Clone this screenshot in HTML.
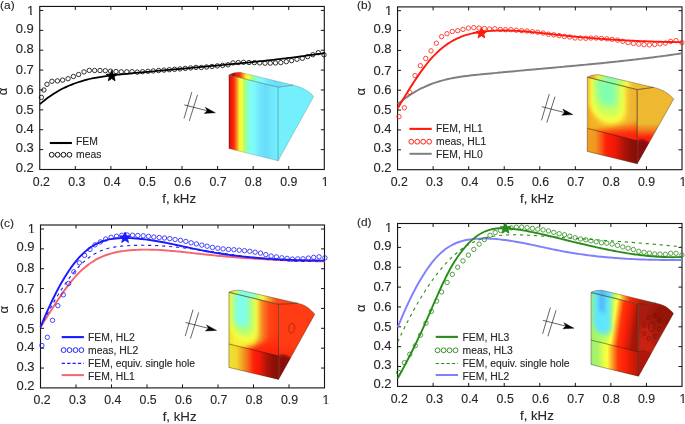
<!DOCTYPE html>
<html lang="en">
<head>
<meta charset="utf-8">
<title>Absorption coefficient: FEM vs measurement</title>
<style>
html,body{margin:0;padding:0;background:#fff;}
body{width:685px;height:424px;overflow:hidden;}
svg{display:block;}
text{font-family:"Liberation Sans",sans-serif;fill:#262626;stroke:#262626;stroke-width:0.12px;}
.tk{font-size:13.4px;}
.tkx{font-size:13px;}
.lg{font-size:10.6px;}
.pl{font-size:11px;}
.xl{font-size:12.8px;}
.al{font-size:13px;}
</style>
</head>
<body>
<svg width="685" height="424" viewBox="0 0 685 424">
<rect x="0" y="0" width="685" height="424" fill="#ffffff"/>
<defs>
<clipPath id="oneM"><rect x="-5" y="-14" width="10" height="12.85"/><rect x="-0.50" y="-1.3" width="1.55" height="1.6"/></clipPath>
<clipPath id="oneE"><rect x="-9" y="-14" width="10" height="12.85"/><rect x="-4.20" y="-1.3" width="1.60" height="1.6"/></clipPath>
</defs>

<g id="panel-a">
<path d="M75.32,169.50v-3.50M75.32,6.45v3.50M110.89,169.50v-3.50M110.89,6.45v3.50M146.46,169.50v-3.50M146.46,6.45v3.50M182.03,169.50v-3.50M182.03,6.45v3.50M217.59,169.50v-3.50M217.59,6.45v3.50M253.16,169.50v-3.50M253.16,6.45v3.50M288.73,169.50v-3.50M288.73,6.45v3.50M39.75,10.45h3.50M324.30,10.45h-3.50M39.75,30.33h3.50M324.30,30.33h-3.50M39.75,50.21h3.50M324.30,50.21h-3.50M39.75,70.09h3.50M324.30,70.09h-3.50M39.75,89.98h3.50M324.30,89.98h-3.50M39.75,109.86h3.50M324.30,109.86h-3.50M39.75,129.74h3.50M324.30,129.74h-3.50M39.75,149.62h3.50M324.30,149.62h-3.50" stroke="#151515" stroke-width="1.0" fill="none"/>
<rect x="39.75" y="6.45" width="284.55" height="163.05" fill="none" stroke="#151515" stroke-width="1.12"/>
<text class="tkx" transform="translate(41.40,186.00) scale(0.950,1)" text-anchor="middle">0.2</text>
<text class="tkx" transform="translate(76.73,186.00) scale(0.950,1)" text-anchor="middle">0.3</text>
<text class="tkx" transform="translate(112.06,186.00) scale(0.950,1)" text-anchor="middle">0.4</text>
<text class="tkx" transform="translate(147.39,186.00) scale(0.950,1)" text-anchor="middle">0.5</text>
<text class="tkx" transform="translate(182.72,186.00) scale(0.950,1)" text-anchor="middle">0.6</text>
<text class="tkx" transform="translate(218.05,186.00) scale(0.950,1)" text-anchor="middle">0.7</text>
<text class="tkx" transform="translate(253.38,186.00) scale(0.950,1)" text-anchor="middle">0.8</text>
<text class="tkx" transform="translate(288.71,186.00) scale(0.950,1)" text-anchor="middle">0.9</text>
<text class="tkx" transform="translate(325.14,186.00) scale(0.950,1)" text-anchor="middle" clip-path="url(#oneM)">1</text>
<text class="tk" transform="translate(34.35,14.85) scale(0.970,1)" text-anchor="end" clip-path="url(#oneE)">1</text>
<text class="tk" transform="translate(33.75,32.73) scale(0.970,1)" text-anchor="end">0.9</text>
<text class="tk" transform="translate(33.75,53.21) scale(0.970,1)" text-anchor="end">0.8</text>
<text class="tk" transform="translate(33.75,74.29) scale(0.970,1)" text-anchor="end">0.7</text>
<text class="tk" transform="translate(33.75,94.18) scale(0.970,1)" text-anchor="end">0.6</text>
<text class="tk" transform="translate(33.75,114.06) scale(0.970,1)" text-anchor="end">0.5</text>
<text class="tk" transform="translate(33.75,132.84) scale(0.970,1)" text-anchor="end">0.4</text>
<text class="tk" transform="translate(33.75,152.22) scale(0.970,1)" text-anchor="end">0.3</text>
<text class="tk" transform="translate(33.75,171.50) scale(0.970,1)" text-anchor="end">0.2</text>
<text class="xl" transform="translate(179.12,202.60) scale(1.035,1)" text-anchor="middle">f, kHz</text>
<text class="al" transform="translate(7.05,91.38) rotate(-90) scale(1.000,1)" text-anchor="middle">α</text>
<text class="pl" transform="translate(0.10,8.85) scale(1.080,1)">(a)</text>
<g id="inset-a"><g transform="translate(0.0,0.0)"><path d="M191.8,92.1L184.0,118.5M197.5,94.8L189.3,120.9M184.3,104.9L207.4,110.8" stroke="#222" stroke-width="0.7" fill="none"/><path d="M215.4,112.8L205.3,107.3L207.2,110.7L204.2,113.4Z" fill="#000" stroke="#000" stroke-width="0.4" stroke-linejoin="miter"/></g><defs><clipPath id="iAf"><rect x="0" y="0" width="49.20" height="73.60"/></clipPath><clipPath id="iAr"><path d="M278.10,87.20L293.00,85.10C301.00,86.70 308.70,90.80 313.70,96.40L278.10,160.80Z"/></clipPath><linearGradient id="iAg" gradientUnits="userSpaceOnUse" x1="228.90" y1="0.00" x2="278.10" y2="0.00"><stop offset="0.000" stop-color="#a01008"/><stop offset="0.040" stop-color="#f01808"/><stop offset="0.100" stop-color="#ff2810"/><stop offset="0.130" stop-color="#ff5810"/><stop offset="0.170" stop-color="#f4a028"/><stop offset="0.210" stop-color="#f4f030"/><stop offset="0.260" stop-color="#f8ff40"/><stop offset="0.310" stop-color="#b4ff60"/><stop offset="0.360" stop-color="#94ffb0"/><stop offset="0.430" stop-color="#80fff0"/><stop offset="0.520" stop-color="#7cf8ff"/><stop offset="0.610" stop-color="#70e8fc"/><stop offset="0.750" stop-color="#68dcfa"/><stop offset="0.890" stop-color="#70e8fc"/><stop offset="1.000" stop-color="#74f0fc"/></linearGradient><linearGradient id="iAt" gradientUnits="userSpaceOnUse" x1="233.90" y1="0.00" x2="290.10" y2="0.00"><stop offset="0.000" stop-color="#a01008"/><stop offset="0.040" stop-color="#f01808"/><stop offset="0.100" stop-color="#ff2810"/><stop offset="0.130" stop-color="#ff5810"/><stop offset="0.170" stop-color="#f4a028"/><stop offset="0.210" stop-color="#f4f030"/><stop offset="0.260" stop-color="#f8ff40"/><stop offset="0.310" stop-color="#b4ff60"/><stop offset="0.360" stop-color="#94ffb0"/><stop offset="0.430" stop-color="#80fff0"/><stop offset="0.520" stop-color="#7cf8ff"/><stop offset="0.610" stop-color="#70e8fc"/><stop offset="0.750" stop-color="#68dcfa"/><stop offset="0.890" stop-color="#70e8fc"/><stop offset="1.000" stop-color="#74f0fc"/></linearGradient></defs><path d="M278.10,87.20L293.00,85.10C301.00,86.70 308.70,90.80 313.70,96.40L278.10,160.80Z" fill="#74f0fc"/><path d="M228.90,75.00C231.10,73.40 235.20,72.20 240.20,72.30L293.00,85.10L278.10,87.20Z" fill="url(#iAt)"/><path d="M228.90,75.00L278.10,87.20L278.10,160.80L228.90,148.60Z" fill="url(#iAg)"/><path d="M278.10,87.20L293.00,85.10C301.00,86.70 308.70,90.80 313.70,96.40L278.10,160.80Z" fill="none" stroke="#2a6a70" stroke-opacity="0.55" stroke-width="0.5"/><path d="M228.90,75.00C231.10,73.40 235.20,72.20 240.20,72.30L293.00,85.10L278.10,87.20Z" fill="none" stroke="#404040" stroke-opacity="0.5" stroke-width="0.5"/><path d="M278.10,87.20L228.90,75.00L228.90,148.60L278.10,160.80" fill="none" stroke="#404040" stroke-opacity="0.45" stroke-width="0.5"/><path d="M278.10,87.20L278.10,160.80" fill="none" stroke="#2a8a94" stroke-opacity="0.6" stroke-width="0.5"/></g>
<path d="M39.90,104.16C40.40,103.74 41.90,102.44 42.90,101.62C43.89,100.81 44.89,100.02 45.89,99.25C46.89,98.48 47.89,97.74 48.89,97.03C49.89,96.31 50.88,95.62 51.88,94.95C52.88,94.28 53.88,93.64 54.88,93.02C55.88,92.40 56.88,91.80 57.87,91.22C58.87,90.65 59.87,90.09 60.87,89.56C61.87,89.02 62.87,88.51 63.87,88.01C64.86,87.52 65.86,87.05 66.86,86.59C67.86,86.13 68.86,85.70 69.86,85.28C70.86,84.86 71.86,84.46 72.85,84.07C73.85,83.69 74.85,83.32 75.85,82.97C76.85,82.62 77.85,82.28 78.85,81.96C79.84,81.64 80.84,81.33 81.84,81.04C82.84,80.74 83.84,80.46 84.84,80.20C85.84,79.93 86.83,79.68 87.83,79.43C88.83,79.19 89.83,78.96 90.83,78.74C91.83,78.52 92.83,78.32 93.82,78.12C94.82,77.92 95.82,77.73 96.82,77.55C97.82,77.37 98.82,77.20 99.82,77.03C100.81,76.87 101.81,76.72 102.81,76.57C103.81,76.42 104.81,76.28 105.81,76.14C106.81,76.00 107.80,75.88 108.80,75.75C109.80,75.62 110.80,75.51 111.80,75.39C112.80,75.27 113.80,75.16 114.79,75.05C115.79,74.94 116.79,74.84 117.79,74.73C118.79,74.63 119.79,74.52 120.79,74.42C121.78,74.32 122.78,74.22 123.78,74.12C124.78,74.02 125.78,73.92 126.78,73.82C127.78,73.72 128.78,73.62 129.77,73.53C130.77,73.43 131.77,73.33 132.77,73.23C133.77,73.14 134.77,73.04 135.77,72.94C136.76,72.85 137.76,72.75 138.76,72.65C139.76,72.56 140.76,72.46 141.76,72.37C142.76,72.27 143.75,72.18 144.75,72.09C145.75,71.99 146.75,71.90 147.75,71.81C148.75,71.71 149.75,71.62 150.74,71.53C151.74,71.43 152.74,71.34 153.74,71.25C154.74,71.16 155.74,71.07 156.74,70.97C157.73,70.88 158.73,70.79 159.73,70.70C160.73,70.61 161.73,70.52 162.73,70.43C163.73,70.34 164.72,70.25 165.72,70.16C166.72,70.07 167.72,69.98 168.72,69.89C169.72,69.80 170.72,69.71 171.71,69.62C172.71,69.53 173.71,69.44 174.71,69.35C175.71,69.26 176.71,69.17 177.71,69.08C178.70,68.99 179.70,68.90 180.70,68.81C181.70,68.72 182.70,68.63 183.70,68.54C184.70,68.45 185.70,68.36 186.69,68.28C187.69,68.19 188.69,68.10 189.69,68.01C190.69,67.92 191.69,67.83 192.69,67.74C193.68,67.65 194.68,67.56 195.68,67.47C196.68,67.38 197.68,67.29 198.68,67.20C199.68,67.11 200.67,67.02 201.67,66.93C202.67,66.84 203.67,66.75 204.67,66.66C205.67,66.57 206.67,66.48 207.66,66.39C208.66,66.29 209.66,66.20 210.66,66.11C211.66,66.02 212.66,65.93 213.66,65.84C214.65,65.74 215.65,65.65 216.65,65.56C217.65,65.47 218.65,65.37 219.65,65.28C220.65,65.19 221.64,65.09 222.64,65.00C223.64,64.90 224.64,64.81 225.64,64.71C226.64,64.62 227.64,64.52 228.63,64.43C229.63,64.33 230.63,64.24 231.63,64.14C232.63,64.04 233.63,63.95 234.63,63.85C235.62,63.75 236.62,63.66 237.62,63.56C238.62,63.46 239.62,63.36 240.62,63.26C241.62,63.16 242.62,63.06 243.61,62.96C244.61,62.86 245.61,62.76 246.61,62.66C247.61,62.56 248.61,62.45 249.61,62.35C250.60,62.25 251.60,62.15 252.60,62.04C253.60,61.94 254.60,61.83 255.60,61.73C256.60,61.62 257.59,61.52 258.59,61.41C259.59,61.30 260.59,61.20 261.59,61.09C262.59,60.98 263.59,60.87 264.58,60.76C265.58,60.65 266.58,60.54 267.58,60.43C268.58,60.32 269.58,60.21 270.58,60.10C271.57,59.98 272.57,59.87 273.57,59.76C274.57,59.64 275.57,59.53 276.57,59.41C277.57,59.29 278.56,59.18 279.56,59.06C280.56,58.94 281.56,58.82 282.56,58.70C283.56,58.58 284.56,58.46 285.55,58.34C286.55,58.22 287.55,58.10 288.55,57.98C289.55,57.85 290.55,57.73 291.55,57.60C292.54,57.48 293.54,57.35 294.54,57.23C295.54,57.10 296.54,56.97 297.54,56.84C298.54,56.71 299.54,56.58 300.53,56.45C301.53,56.32 302.53,56.19 303.53,56.05C304.53,55.92 305.53,55.79 306.53,55.65C307.52,55.51 308.52,55.38 309.52,55.24C310.52,55.10 311.52,54.96 312.52,54.82C313.52,54.68 314.51,54.54 315.51,54.40C316.51,54.25 317.51,54.11 318.51,53.96C319.51,53.82 320.51,53.67 321.50,53.53C322.50,53.38 324.00,53.15 324.50,53.08" fill="none" stroke="#000000" stroke-width="1.75" stroke-linejoin="round"/>
<g fill="none" stroke="#000000" stroke-width="0.80"><circle cx="41.4" cy="97.4" r="2.20"/><circle cx="43.9" cy="90.0" r="2.20"/><circle cx="47.0" cy="84.3" r="2.20"/><circle cx="51.9" cy="81.3" r="2.20"/><circle cx="57.4" cy="80.9" r="2.20"/><circle cx="62.6" cy="80.1" r="2.20"/><circle cx="68.1" cy="78.7" r="2.20"/><circle cx="73.4" cy="76.5" r="2.20"/><circle cx="78.6" cy="74.5" r="2.20"/><circle cx="84.0" cy="71.9" r="2.20"/><circle cx="89.3" cy="70.4" r="2.20"/><circle cx="94.6" cy="70.5" r="2.20"/><circle cx="100.0" cy="70.5" r="2.20"/><circle cx="105.3" cy="70.7" r="2.20"/><circle cx="110.6" cy="71.2" r="2.20"/><circle cx="116.0" cy="71.5" r="2.20"/><circle cx="121.3" cy="71.8" r="2.20"/><circle cx="126.8" cy="71.8" r="2.20"/><circle cx="132.0" cy="71.7" r="2.20"/><circle cx="137.3" cy="72.1" r="2.20"/><circle cx="142.6" cy="71.7" r="2.20"/><circle cx="148.0" cy="71.3" r="2.20"/><circle cx="153.3" cy="70.9" r="2.20"/><circle cx="158.6" cy="70.5" r="2.20"/><circle cx="164.0" cy="70.1" r="2.20"/><circle cx="169.3" cy="69.7" r="2.20"/><circle cx="174.6" cy="69.3" r="2.20"/><circle cx="180.0" cy="68.9" r="2.20"/><circle cx="185.3" cy="68.4" r="2.20"/><circle cx="190.6" cy="67.9" r="2.20"/><circle cx="196.0" cy="67.4" r="2.20"/><circle cx="201.3" cy="67.5" r="2.20"/><circle cx="206.6" cy="67.0" r="2.20"/><circle cx="212.0" cy="66.5" r="2.20"/><circle cx="217.3" cy="65.9" r="2.20"/><circle cx="222.6" cy="65.4" r="2.20"/><circle cx="228.0" cy="64.8" r="2.20"/><circle cx="233.0" cy="62.9" r="2.20"/><circle cx="238.3" cy="62.6" r="2.20"/><circle cx="243.5" cy="62.3" r="2.20"/><circle cx="249.0" cy="62.5" r="2.20"/><circle cx="254.4" cy="62.6" r="2.20"/><circle cx="259.7" cy="62.9" r="2.20"/><circle cx="265.0" cy="63.2" r="2.20"/><circle cx="270.3" cy="63.1" r="2.20"/><circle cx="275.5" cy="62.9" r="2.20"/><circle cx="280.8" cy="62.6" r="2.20"/><circle cx="286.3" cy="61.7" r="2.20"/><circle cx="291.6" cy="60.6" r="2.20"/><circle cx="297.0" cy="59.3" r="2.20"/><circle cx="302.3" cy="58.3" r="2.20"/><circle cx="307.6" cy="56.6" r="2.20"/><circle cx="312.8" cy="54.7" r="2.20"/><circle cx="318.3" cy="52.7" r="2.20"/><circle cx="324.0" cy="54.8" r="2.20"/></g>
<polygon points="111.70,70.40 113.14,74.12 117.12,74.34 114.03,76.86 115.05,80.71 111.70,78.55 108.35,80.71 109.37,76.86 106.28,74.34 110.26,74.12" fill="#000000" stroke="#000000" stroke-width="0.9" stroke-linejoin="miter" stroke-miterlimit="4"/>
<path d="M49.8,143.0H71.9" stroke="#000000" stroke-width="2.10" fill="none"/>
<text class="lg" transform="translate(76.00,145.10) scale(0.980,1)">FEM</text>
<g fill="none" stroke="#000000" stroke-width="0.95"><circle cx="51.7" cy="154.8" r="2.40"/><circle cx="57.6" cy="154.8" r="2.40"/><circle cx="63.5" cy="154.8" r="2.40"/><circle cx="69.4" cy="154.8" r="2.40"/></g>
<text class="lg" transform="translate(76.00,158.10) scale(0.980,1)">meas</text>
</g>
<g id="panel-b">
<path d="M433.11,169.70v-3.50M433.11,6.90v3.50M468.66,169.70v-3.50M468.66,6.90v3.50M504.22,169.70v-3.50M504.22,6.90v3.50M539.77,169.70v-3.50M539.77,6.90v3.50M575.33,169.70v-3.50M575.33,6.90v3.50M610.89,169.70v-3.50M610.89,6.90v3.50M646.44,169.70v-3.50M646.44,6.90v3.50M397.55,10.70h3.50M682.00,10.70h-3.50M397.55,30.57h3.50M682.00,30.57h-3.50M397.55,50.45h3.50M682.00,50.45h-3.50M397.55,70.33h3.50M682.00,70.33h-3.50M397.55,90.20h3.50M682.00,90.20h-3.50M397.55,110.08h3.50M682.00,110.08h-3.50M397.55,129.95h3.50M682.00,129.95h-3.50M397.55,149.82h3.50M682.00,149.82h-3.50" stroke="#151515" stroke-width="1.0" fill="none"/>
<rect x="397.55" y="6.90" width="284.45" height="162.80" fill="none" stroke="#151515" stroke-width="1.12"/>
<text class="tkx" transform="translate(399.20,186.20) scale(0.950,1)" text-anchor="middle">0.2</text>
<text class="tkx" transform="translate(434.53,186.20) scale(0.950,1)" text-anchor="middle">0.3</text>
<text class="tkx" transform="translate(469.86,186.20) scale(0.950,1)" text-anchor="middle">0.4</text>
<text class="tkx" transform="translate(505.19,186.20) scale(0.950,1)" text-anchor="middle">0.5</text>
<text class="tkx" transform="translate(540.52,186.20) scale(0.950,1)" text-anchor="middle">0.6</text>
<text class="tkx" transform="translate(575.85,186.20) scale(0.950,1)" text-anchor="middle">0.7</text>
<text class="tkx" transform="translate(611.18,186.20) scale(0.950,1)" text-anchor="middle">0.8</text>
<text class="tkx" transform="translate(646.51,186.20) scale(0.950,1)" text-anchor="middle">0.9</text>
<text class="tkx" transform="translate(682.94,186.20) scale(0.950,1)" text-anchor="middle" clip-path="url(#oneM)">1</text>
<text class="tk" transform="translate(392.15,15.10) scale(0.970,1)" text-anchor="end" clip-path="url(#oneE)">1</text>
<text class="tk" transform="translate(391.55,32.98) scale(0.970,1)" text-anchor="end">0.9</text>
<text class="tk" transform="translate(391.55,53.45) scale(0.970,1)" text-anchor="end">0.8</text>
<text class="tk" transform="translate(391.55,74.53) scale(0.970,1)" text-anchor="end">0.7</text>
<text class="tk" transform="translate(391.55,94.40) scale(0.970,1)" text-anchor="end">0.6</text>
<text class="tk" transform="translate(391.55,114.28) scale(0.970,1)" text-anchor="end">0.5</text>
<text class="tk" transform="translate(391.55,133.05) scale(0.970,1)" text-anchor="end">0.4</text>
<text class="tk" transform="translate(391.55,152.43) scale(0.970,1)" text-anchor="end">0.3</text>
<text class="tk" transform="translate(391.55,171.70) scale(0.970,1)" text-anchor="end">0.2</text>
<text class="xl" transform="translate(536.88,202.80) scale(1.035,1)" text-anchor="middle">f, kHz</text>
<text class="al" transform="translate(364.85,91.70) rotate(-90) scale(1.000,1)" text-anchor="middle">α</text>
<text class="pl" transform="translate(357.00,8.85) scale(1.080,1)">(b)</text>
<g id="inset-b"><g transform="translate(357.5,1.8)"><path d="M191.8,92.1L184.0,118.5M197.5,94.8L189.3,120.9M184.3,104.9L207.4,110.8" stroke="#222" stroke-width="0.7" fill="none"/><path d="M215.4,112.8L205.3,107.3L207.2,110.7L204.2,113.4Z" fill="#000" stroke="#000" stroke-width="0.4" stroke-linejoin="miter"/></g><defs><clipPath id="iBf"><rect x="0" y="0" width="49.90" height="74.20"/></clipPath><clipPath id="iBr"><path d="M637.20,89.60L653.50,87.40C661.50,89.00 668.70,93.30 673.70,98.90L637.20,163.80Z"/></clipPath><linearGradient id="iBb" gradientUnits="userSpaceOnUse" x1="0.00" y1="0.00" x2="49.90" y2="0.00"><stop offset="0.000" stop-color="#f0a020"/><stop offset="0.100" stop-color="#f4b428"/><stop offset="0.500" stop-color="#f4c430"/><stop offset="0.800" stop-color="#f0bc30"/><stop offset="1.000" stop-color="#eeb030"/></linearGradient><linearGradient id="iBl" gradientUnits="userSpaceOnUse" x1="0.00" y1="0.00" x2="49.90" y2="0.00"><stop offset="0.000" stop-color="#f0a020"/><stop offset="0.160" stop-color="#f09820"/><stop offset="0.270" stop-color="#f86018"/><stop offset="0.380" stop-color="#ff2008"/><stop offset="0.550" stop-color="#f01808"/><stop offset="0.730" stop-color="#b01408"/><stop offset="0.900" stop-color="#8c1008"/><stop offset="1.000" stop-color="#861008"/></linearGradient><linearGradient id="iBt" gradientUnits="userSpaceOnUse" x1="592.30" y1="0.00" x2="658.20" y2="0.00"><stop offset="0.000" stop-color="#f0a828"/><stop offset="0.080" stop-color="#f8e838"/><stop offset="0.180" stop-color="#a0ff90"/><stop offset="0.300" stop-color="#80ffb0"/><stop offset="0.420" stop-color="#b0ff70"/><stop offset="0.520" stop-color="#f8f840"/><stop offset="0.620" stop-color="#f0c030"/><stop offset="1.000" stop-color="#eeb830"/></linearGradient><filter id="iBb0" x="-50%" y="-50%" width="200%" height="200%"><feGaussianBlur stdDeviation="2.60"/></filter><filter id="iBb1" x="-50%" y="-50%" width="200%" height="200%"><feGaussianBlur stdDeviation="2.80"/></filter><filter id="iBb2" x="-50%" y="-50%" width="200%" height="200%"><feGaussianBlur stdDeviation="3.40"/></filter><filter id="iBbb" x="-50%" y="-50%" width="200%" height="200%"><feGaussianBlur stdDeviation="2.6"/></filter><filter id="iBbc" x="-50%" y="-50%" width="200%" height="200%"><feGaussianBlur stdDeviation="1.2"/></filter><linearGradient id="iBrg" gradientUnits="userSpaceOnUse" x1="0.00" y1="89.60" x2="0.00" y2="142.80"><stop offset="0.000" stop-color="#eeb830"/><stop offset="0.640" stop-color="#eeb830"/><stop offset="0.760" stop-color="#f08020"/><stop offset="0.900" stop-color="#ff2010"/><stop offset="1.000" stop-color="#ff2010"/></linearGradient></defs><g clip-path="url(#iBr)"><rect x="636.20" y="83.60" width="39.50" height="86.20" fill="url(#iBrg)"/><path d="M637.20,140.80C638.70,140.60 640.20,139.60 642.20,139.80C645.20,140.20 647.20,141.80 650.70,143.40L645.20,165.80L637.20,165.80Z" fill="#8a1008" filter="url(#iBbc)"/></g><path d="M587.30,77.20C589.50,75.60 594.00,74.60 599.00,74.70L653.50,87.40L637.20,89.60Z" fill="url(#iBt)"/><g transform="matrix(1,0.2485,0,1,587.30,77.20)"><g clip-path="url(#iBf)"><rect x="0" y="0" width="49.90" height="74.20" fill="url(#iBb)"/><g><path d="M2.00,-12.00V23.25A18.25,18.25 0 0 0 38.50,23.25V-12.00Z" fill="#ffff40" filter="url(#iBb0)"/><path d="M6.00,-12.00V22.00A14.00,14.00 0 0 0 34.00,22.00V-12.00Z" fill="#d0ff58" filter="url(#iBb1)"/><path d="M9.50,-12.00V15.00A10.00,10.00 0 0 0 29.50,15.00V-12.00Z" fill="#80ffb0" filter="url(#iBb2)"/><path d="M2.50,53.20L55.90,31.20L55.90,57.20L2.50,57.20Z" fill="#f87018" fill-opacity="1.00" filter="url(#iBbb)"/><path d="M9.98,53.20L55.90,38.70L55.90,57.20L9.98,57.20Z" fill="#ff2010" fill-opacity="1.00" filter="url(#iBbb)"/></g><rect x="-1" y="51.20" width="51.90" height="24.00" fill="url(#iBl)"/><path d="M0,51.20H49.90" stroke="#301808" stroke-opacity="0.8" stroke-width="0.55" fill="none"/></g></g><path d="M637.20,89.60L653.50,87.40C661.50,89.00 668.70,93.30 673.70,98.90L637.20,163.80Z" fill="none" stroke="#3a2a10" stroke-opacity="0.7" stroke-width="0.55"/><path d="M587.30,77.20C589.50,75.60 594.00,74.60 599.00,74.70L653.50,87.40L637.20,89.60Z" fill="none" stroke="#3a2a10" stroke-opacity="0.7" stroke-width="0.55"/><path d="M587.30,77.20L637.20,89.60L637.20,163.80L587.30,151.40Z" fill="none" stroke="#3a2a10" stroke-opacity="0.75" stroke-width="0.55"/><path d="M637.20,140.80C638.70,140.60 640.20,139.60 642.20,139.80C645.20,140.20 647.20,141.80 649.40,143.00" fill="none" stroke="#301008" stroke-opacity="0.5" stroke-width="0.5"/></g>
<path d="M397.70,104.36C398.20,103.94 399.70,102.64 400.70,101.82C401.69,101.01 402.69,100.22 403.69,99.45C404.69,98.68 405.69,97.94 406.69,97.23C407.69,96.51 408.68,95.82 409.68,95.15C410.68,94.48 411.68,93.84 412.68,93.22C413.68,92.60 414.68,92.00 415.67,91.42C416.67,90.85 417.67,90.29 418.67,89.76C419.67,89.22 420.67,88.71 421.67,88.21C422.66,87.72 423.66,87.25 424.66,86.79C425.66,86.33 426.66,85.90 427.66,85.48C428.66,85.06 429.66,84.66 430.65,84.27C431.65,83.89 432.65,83.52 433.65,83.17C434.65,82.82 435.65,82.48 436.65,82.16C437.64,81.84 438.64,81.53 439.64,81.24C440.64,80.94 441.64,80.66 442.64,80.40C443.64,80.13 444.63,79.88 445.63,79.63C446.63,79.39 447.63,79.16 448.63,78.94C449.63,78.72 450.63,78.52 451.62,78.32C452.62,78.12 453.62,77.93 454.62,77.75C455.62,77.57 456.62,77.40 457.62,77.23C458.61,77.07 459.61,76.92 460.61,76.77C461.61,76.62 462.61,76.48 463.61,76.34C464.61,76.20 465.60,76.08 466.60,75.95C467.60,75.82 468.60,75.71 469.60,75.59C470.60,75.47 471.60,75.36 472.59,75.25C473.59,75.14 474.59,75.04 475.59,74.93C476.59,74.83 477.59,74.72 478.59,74.62C479.58,74.52 480.58,74.42 481.58,74.32C482.58,74.22 483.58,74.12 484.58,74.02C485.58,73.92 486.58,73.82 487.57,73.73C488.57,73.63 489.57,73.53 490.57,73.43C491.57,73.34 492.57,73.24 493.57,73.14C494.56,73.05 495.56,72.95 496.56,72.85C497.56,72.76 498.56,72.66 499.56,72.57C500.56,72.47 501.55,72.38 502.55,72.29C503.55,72.19 504.55,72.10 505.55,72.01C506.55,71.91 507.55,71.82 508.54,71.73C509.54,71.63 510.54,71.54 511.54,71.45C512.54,71.36 513.54,71.27 514.54,71.17C515.53,71.08 516.53,70.99 517.53,70.90C518.53,70.81 519.53,70.72 520.53,70.63C521.53,70.54 522.52,70.45 523.52,70.36C524.52,70.27 525.52,70.18 526.52,70.09C527.52,70.00 528.52,69.91 529.51,69.82C530.51,69.73 531.51,69.64 532.51,69.55C533.51,69.46 534.51,69.37 535.51,69.28C536.50,69.19 537.50,69.10 538.50,69.01C539.50,68.92 540.50,68.83 541.50,68.74C542.50,68.65 543.50,68.56 544.49,68.48C545.49,68.39 546.49,68.30 547.49,68.21C548.49,68.12 549.49,68.03 550.49,67.94C551.48,67.85 552.48,67.76 553.48,67.67C554.48,67.58 555.48,67.49 556.48,67.40C557.48,67.31 558.47,67.22 559.47,67.13C560.47,67.04 561.47,66.95 562.47,66.86C563.47,66.77 564.47,66.68 565.46,66.59C566.46,66.49 567.46,66.40 568.46,66.31C569.46,66.22 570.46,66.13 571.46,66.04C572.45,65.94 573.45,65.85 574.45,65.76C575.45,65.67 576.45,65.57 577.45,65.48C578.45,65.39 579.44,65.29 580.44,65.20C581.44,65.10 582.44,65.01 583.44,64.91C584.44,64.82 585.44,64.72 586.43,64.63C587.43,64.53 588.43,64.44 589.43,64.34C590.43,64.24 591.43,64.15 592.43,64.05C593.42,63.95 594.42,63.86 595.42,63.76C596.42,63.66 597.42,63.56 598.42,63.46C599.42,63.36 600.42,63.26 601.41,63.16C602.41,63.06 603.41,62.96 604.41,62.86C605.41,62.76 606.41,62.65 607.41,62.55C608.40,62.45 609.40,62.35 610.40,62.24C611.40,62.14 612.40,62.03 613.40,61.93C614.40,61.82 615.39,61.72 616.39,61.61C617.39,61.50 618.39,61.40 619.39,61.29C620.39,61.18 621.39,61.07 622.38,60.96C623.38,60.85 624.38,60.74 625.38,60.63C626.38,60.52 627.38,60.41 628.38,60.30C629.37,60.18 630.37,60.07 631.37,59.96C632.37,59.84 633.37,59.73 634.37,59.61C635.37,59.49 636.36,59.38 637.36,59.26C638.36,59.14 639.36,59.02 640.36,58.90C641.36,58.78 642.36,58.66 643.35,58.54C644.35,58.42 645.35,58.30 646.35,58.18C647.35,58.05 648.35,57.93 649.35,57.80C650.34,57.68 651.34,57.55 652.34,57.43C653.34,57.30 654.34,57.17 655.34,57.04C656.34,56.91 657.34,56.78 658.33,56.65C659.33,56.52 660.33,56.39 661.33,56.25C662.33,56.12 663.33,55.99 664.33,55.85C665.32,55.71 666.32,55.58 667.32,55.44C668.32,55.30 669.32,55.16 670.32,55.02C671.32,54.88 672.31,54.74 673.31,54.60C674.31,54.45 675.31,54.31 676.31,54.16C677.31,54.02 678.31,53.87 679.30,53.73C680.30,53.58 681.80,53.35 682.30,53.28" fill="none" stroke="#7f7f7f" stroke-width="1.95" stroke-linejoin="round"/>
<path d="M397.55,108.54C398.05,107.70 399.55,105.18 400.54,103.52C401.54,101.85 402.54,100.19 403.54,98.54C404.53,96.90 405.53,95.26 406.53,93.64C407.53,92.02 408.52,90.41 409.52,88.82C410.52,87.23 411.52,85.66 412.52,84.12C413.51,82.57 414.51,81.04 415.51,79.54C416.51,78.05 417.50,76.57 418.50,75.13C419.50,73.68 420.50,72.27 421.50,70.89C422.49,69.51 423.49,68.15 424.49,66.84C425.49,65.53 426.48,64.25 427.48,63.02C428.48,61.78 429.48,60.59 430.47,59.44C431.47,58.29 432.47,57.18 433.47,56.12C434.47,55.06 435.46,54.04 436.46,53.07C437.46,52.10 438.46,51.17 439.45,50.28C440.45,49.39 441.45,48.55 442.45,47.75C443.45,46.94 444.44,46.17 445.44,45.44C446.44,44.72 447.44,44.03 448.43,43.37C449.43,42.71 450.43,42.09 451.43,41.51C452.42,40.92 453.42,40.36 454.42,39.84C455.42,39.32 456.42,38.83 457.41,38.36C458.41,37.90 459.41,37.47 460.41,37.06C461.40,36.65 462.40,36.27 463.40,35.92C464.40,35.56 465.39,35.23 466.39,34.93C467.39,34.62 468.39,34.34 469.39,34.07C470.38,33.81 471.38,33.57 472.38,33.34C473.38,33.12 474.37,32.91 475.37,32.72C476.37,32.54 477.37,32.36 478.37,32.21C479.36,32.05 480.36,31.91 481.36,31.78C482.36,31.64 483.35,31.53 484.35,31.42C485.35,31.31 486.35,31.22 487.34,31.13C488.34,31.04 489.34,30.96 490.34,30.89C491.34,30.82 492.33,30.76 493.33,30.71C494.33,30.66 495.33,30.62 496.32,30.58C497.32,30.55 498.32,30.52 499.32,30.50C500.32,30.48 501.31,30.47 502.31,30.47C503.31,30.47 504.31,30.47 505.30,30.48C506.30,30.49 507.30,30.51 508.30,30.53C509.29,30.56 510.29,30.59 511.29,30.62C512.29,30.66 513.29,30.70 514.28,30.75C515.28,30.79 516.28,30.85 517.28,30.91C518.27,30.96 519.27,31.03 520.27,31.09C521.27,31.16 522.26,31.23 523.26,31.31C524.26,31.39 525.26,31.47 526.26,31.55C527.25,31.64 528.25,31.72 529.25,31.81C530.25,31.90 531.24,32.00 532.24,32.10C533.24,32.19 534.24,32.29 535.24,32.39C536.23,32.50 537.23,32.60 538.23,32.71C539.23,32.81 540.22,32.92 541.22,33.03C542.22,33.14 543.22,33.25 544.21,33.36C545.21,33.47 546.21,33.58 547.21,33.70C548.21,33.81 549.20,33.92 550.20,34.04C551.20,34.15 552.20,34.26 553.19,34.38C554.19,34.49 555.19,34.60 556.19,34.71C557.19,34.82 558.18,34.94 559.18,35.04C560.18,35.15 561.18,35.26 562.17,35.37C563.17,35.48 564.17,35.58 565.17,35.68C566.16,35.79 567.16,35.89 568.16,35.99C569.16,36.09 570.16,36.19 571.15,36.29C572.15,36.39 573.15,36.49 574.15,36.58C575.14,36.68 576.14,36.77 577.14,36.87C578.14,36.96 579.13,37.05 580.13,37.14C581.13,37.23 582.13,37.32 583.13,37.41C584.12,37.50 585.12,37.58 586.12,37.67C587.12,37.76 588.11,37.84 589.11,37.92C590.11,38.01 591.11,38.09 592.11,38.17C593.10,38.25 594.10,38.33 595.10,38.40C596.10,38.48 597.09,38.56 598.09,38.63C599.09,38.71 600.09,38.78 601.08,38.86C602.08,38.93 603.08,39.00 604.08,39.07C605.08,39.14 606.07,39.21 607.07,39.28C608.07,39.34 609.07,39.41 610.06,39.48C611.06,39.54 612.06,39.61 613.06,39.67C614.06,39.73 615.05,39.79 616.05,39.85C617.05,39.91 618.05,39.97 619.04,40.03C620.04,40.09 621.04,40.15 622.04,40.20C623.03,40.26 624.03,40.31 625.03,40.37C626.03,40.42 627.03,40.47 628.02,40.52C629.02,40.57 630.02,40.62 631.02,40.67C632.01,40.72 633.01,40.77 634.01,40.81C635.01,40.86 636.00,40.91 637.00,40.95C638.00,40.99 639.00,41.04 640.00,41.08C640.99,41.12 641.99,41.16 642.99,41.20C643.99,41.24 644.98,41.28 645.98,41.32C646.98,41.35 647.98,41.39 648.98,41.42C649.97,41.46 650.97,41.49 651.97,41.53C652.97,41.56 653.96,41.59 654.96,41.62C655.96,41.65 656.96,41.68 657.95,41.71C658.95,41.74 659.95,41.77 660.95,41.79C661.95,41.82 662.94,41.85 663.94,41.87C664.94,41.89 665.94,41.92 666.93,41.94C667.93,41.96 668.93,41.98 669.93,42.00C670.93,42.02 671.92,42.04 672.92,42.06C673.92,42.08 674.92,42.10 675.91,42.11C676.91,42.13 677.91,42.14 678.91,42.16C679.90,42.17 681.40,42.19 681.90,42.20" fill="none" stroke="#ff1a0d" stroke-width="1.90" stroke-linejoin="round"/>
<g fill="none" stroke="#ff1a0d" stroke-width="0.80"><circle cx="399.0" cy="116.6" r="2.20"/><circle cx="404.4" cy="107.8" r="2.20"/><circle cx="409.7" cy="92.3" r="2.20"/><circle cx="415.0" cy="75.6" r="2.20"/><circle cx="420.4" cy="65.7" r="2.20"/><circle cx="425.7" cy="58.5" r="2.20"/><circle cx="431.0" cy="50.8" r="2.20"/><circle cx="436.4" cy="43.2" r="2.20"/><circle cx="441.6" cy="36.6" r="2.20"/><circle cx="447.0" cy="33.7" r="2.20"/><circle cx="452.3" cy="31.5" r="2.20"/><circle cx="457.7" cy="30.7" r="2.20"/><circle cx="463.0" cy="29.4" r="2.20"/><circle cx="468.4" cy="28.1" r="2.20"/><circle cx="473.8" cy="27.6" r="2.20"/><circle cx="479.0" cy="28.1" r="2.20"/><circle cx="484.4" cy="28.5" r="2.20"/><circle cx="489.6" cy="29.0" r="2.20"/><circle cx="494.9" cy="28.7" r="2.20"/><circle cx="500.3" cy="29.4" r="2.20"/><circle cx="505.6" cy="29.7" r="2.20"/><circle cx="510.9" cy="29.7" r="2.20"/><circle cx="516.3" cy="30.2" r="2.20"/><circle cx="521.6" cy="30.7" r="2.20"/><circle cx="527.0" cy="31.0" r="2.20"/><circle cx="532.4" cy="31.7" r="2.20"/><circle cx="537.7" cy="32.2" r="2.20"/><circle cx="543.1" cy="33.0" r="2.20"/><circle cx="548.4" cy="34.2" r="2.20"/><circle cx="553.7" cy="34.8" r="2.20"/><circle cx="559.1" cy="35.6" r="2.20"/><circle cx="564.4" cy="36.5" r="2.20"/><circle cx="569.7" cy="37.0" r="2.20"/><circle cx="575.0" cy="38.0" r="2.20"/><circle cx="580.4" cy="38.1" r="2.20"/><circle cx="585.8" cy="38.3" r="2.20"/><circle cx="590.9" cy="38.0" r="2.20"/><circle cx="596.2" cy="38.0" r="2.20"/><circle cx="601.5" cy="38.4" r="2.20"/><circle cx="606.8" cy="38.8" r="2.20"/><circle cx="612.1" cy="39.3" r="2.20"/><circle cx="617.5" cy="40.1" r="2.20"/><circle cx="622.8" cy="41.3" r="2.20"/><circle cx="628.1" cy="42.6" r="2.20"/><circle cx="633.4" cy="43.4" r="2.20"/><circle cx="638.8" cy="44.1" r="2.20"/><circle cx="644.1" cy="44.6" r="2.20"/><circle cx="649.4" cy="44.9" r="2.20"/><circle cx="654.7" cy="44.4" r="2.20"/><circle cx="660.0" cy="43.9" r="2.20"/><circle cx="665.4" cy="43.1" r="2.20"/><circle cx="670.7" cy="41.4" r="2.20"/><circle cx="676.1" cy="40.6" r="2.20"/><circle cx="681.9" cy="42.6" r="2.20"/></g>
<polygon points="481.40,27.60 482.84,31.32 486.82,31.54 483.73,34.06 484.75,37.91 481.40,35.75 478.05,37.91 479.07,34.06 475.98,31.54 479.96,31.32" fill="#ff1a0d" stroke="#ff1a0d" stroke-width="0.9" stroke-linejoin="miter" stroke-miterlimit="4"/>
<path d="M409.4,128.9H431.7" stroke="#ff1a0d" stroke-width="2.10" fill="none"/>
<text class="lg" transform="translate(436.00,132.10) scale(0.980,1)">FEM, HL1</text>
<g fill="none" stroke="#ff1a0d" stroke-width="0.95"><circle cx="411.3" cy="141.7" r="2.40"/><circle cx="417.3" cy="141.7" r="2.40"/><circle cx="423.2" cy="141.7" r="2.40"/><circle cx="429.2" cy="141.7" r="2.40"/></g>
<text class="lg" transform="translate(436.00,145.20) scale(0.980,1)">meas, HL1</text>
<path d="M409.4,153.8H431.7" stroke="#7f7f7f" stroke-width="2.00" fill="none"/>
<text class="lg" transform="translate(436.00,158.30) scale(0.980,1)">FEM, HL0</text>
</g>
<g id="panel-c">
<path d="M76.00,387.90v-3.50M76.00,225.00v3.50M111.50,387.90v-3.50M111.50,225.00v3.50M147.00,387.90v-3.50M147.00,225.00v3.50M182.50,387.90v-3.50M182.50,225.00v3.50M218.00,387.90v-3.50M218.00,225.00v3.50M253.50,387.90v-3.50M253.50,225.00v3.50M289.00,387.90v-3.50M289.00,225.00v3.50M40.50,229.00h3.50M324.50,229.00h-3.50M40.50,248.86h3.50M324.50,248.86h-3.50M40.50,268.73h3.50M324.50,268.73h-3.50M40.50,288.59h3.50M324.50,288.59h-3.50M40.50,308.45h3.50M324.50,308.45h-3.50M40.50,328.31h3.50M324.50,328.31h-3.50M40.50,348.17h3.50M324.50,348.17h-3.50M40.50,368.04h3.50M324.50,368.04h-3.50" stroke="#151515" stroke-width="1.0" fill="none"/>
<rect x="40.50" y="225.00" width="284.00" height="162.90" fill="none" stroke="#151515" stroke-width="1.12"/>
<text class="tkx" transform="translate(42.15,404.40) scale(0.950,1)" text-anchor="middle">0.2</text>
<text class="tkx" transform="translate(77.48,404.40) scale(0.950,1)" text-anchor="middle">0.3</text>
<text class="tkx" transform="translate(112.81,404.40) scale(0.950,1)" text-anchor="middle">0.4</text>
<text class="tkx" transform="translate(148.14,404.40) scale(0.950,1)" text-anchor="middle">0.5</text>
<text class="tkx" transform="translate(183.47,404.40) scale(0.950,1)" text-anchor="middle">0.6</text>
<text class="tkx" transform="translate(218.80,404.40) scale(0.950,1)" text-anchor="middle">0.7</text>
<text class="tkx" transform="translate(254.13,404.40) scale(0.950,1)" text-anchor="middle">0.8</text>
<text class="tkx" transform="translate(289.46,404.40) scale(0.950,1)" text-anchor="middle">0.9</text>
<text class="tkx" transform="translate(325.89,404.40) scale(0.950,1)" text-anchor="middle" clip-path="url(#oneM)">1</text>
<text class="tk" transform="translate(35.10,233.40) scale(0.970,1)" text-anchor="end" clip-path="url(#oneE)">1</text>
<text class="tk" transform="translate(34.50,251.26) scale(0.970,1)" text-anchor="end">0.9</text>
<text class="tk" transform="translate(34.50,271.73) scale(0.970,1)" text-anchor="end">0.8</text>
<text class="tk" transform="translate(34.50,292.79) scale(0.970,1)" text-anchor="end">0.7</text>
<text class="tk" transform="translate(34.50,312.65) scale(0.970,1)" text-anchor="end">0.6</text>
<text class="tk" transform="translate(34.50,332.51) scale(0.970,1)" text-anchor="end">0.5</text>
<text class="tk" transform="translate(34.50,351.27) scale(0.970,1)" text-anchor="end">0.4</text>
<text class="tk" transform="translate(34.50,370.64) scale(0.970,1)" text-anchor="end">0.3</text>
<text class="tk" transform="translate(34.50,389.90) scale(0.970,1)" text-anchor="end">0.2</text>
<text class="xl" transform="translate(179.60,421.00) scale(1.035,1)" text-anchor="middle">f, kHz</text>
<text class="al" transform="translate(7.80,309.85) rotate(-90) scale(1.000,1)" text-anchor="middle">α</text>
<text class="pl" transform="translate(0.10,227.00) scale(1.080,1)">(c)</text>
<g id="inset-c"><g transform="translate(1.2,217.6)"><path d="M191.8,92.1L184.0,118.5M197.5,94.8L189.3,120.9M184.3,104.9L207.4,110.8" stroke="#222" stroke-width="0.7" fill="none"/><path d="M215.4,112.8L205.3,107.3L207.2,110.7L204.2,113.4Z" fill="#000" stroke="#000" stroke-width="0.4" stroke-linejoin="miter"/></g><defs><clipPath id="iCf"><rect x="0" y="0" width="49.60" height="75.10"/></clipPath><clipPath id="iCr"><path d="M278.50,304.30L297.50,303.20C305.50,304.80 309.80,308.60 314.80,314.20L278.50,379.40Z"/></clipPath><linearGradient id="iCb" gradientUnits="userSpaceOnUse" x1="0.00" y1="0.00" x2="49.60" y2="0.00"><stop offset="0.000" stop-color="#f0e030"/><stop offset="0.120" stop-color="#f8f038"/><stop offset="0.500" stop-color="#f8e838"/><stop offset="0.600" stop-color="#f4b030"/><stop offset="0.700" stop-color="#f87820"/><stop offset="0.820" stop-color="#ff4414"/><stop offset="1.000" stop-color="#ff3810"/></linearGradient><linearGradient id="iCl" gradientUnits="userSpaceOnUse" x1="0.00" y1="0.00" x2="49.60" y2="0.00"><stop offset="0.000" stop-color="#f0e030"/><stop offset="0.150" stop-color="#f0d830"/><stop offset="0.280" stop-color="#f0a020"/><stop offset="0.400" stop-color="#f86018"/><stop offset="0.500" stop-color="#ff2008"/><stop offset="0.620" stop-color="#f01808"/><stop offset="0.760" stop-color="#b01408"/><stop offset="0.900" stop-color="#8c1008"/><stop offset="1.000" stop-color="#861008"/></linearGradient><linearGradient id="iCt" gradientUnits="userSpaceOnUse" x1="230.90" y1="0.00" x2="296.50" y2="0.00"><stop offset="0.000" stop-color="#f0d830"/><stop offset="0.070" stop-color="#e8f840"/><stop offset="0.130" stop-color="#90ffd0"/><stop offset="0.220" stop-color="#80ffe8"/><stop offset="0.330" stop-color="#88ffd8"/><stop offset="0.400" stop-color="#b0ff80"/><stop offset="0.480" stop-color="#f8f840"/><stop offset="0.580" stop-color="#f4a830"/><stop offset="0.700" stop-color="#ff4c18"/><stop offset="1.000" stop-color="#ff3c14"/></linearGradient><filter id="iCb0" x="-50%" y="-50%" width="200%" height="200%"><feGaussianBlur stdDeviation="2.00"/></filter><filter id="iCb1" x="-50%" y="-50%" width="200%" height="200%"><feGaussianBlur stdDeviation="2.20"/></filter><filter id="iCb2" x="-50%" y="-50%" width="200%" height="200%"><feGaussianBlur stdDeviation="2.60"/></filter><filter id="iCbb" x="-50%" y="-50%" width="200%" height="200%"><feGaussianBlur stdDeviation="2.6"/></filter><filter id="iCbc" x="-50%" y="-50%" width="200%" height="200%"><feGaussianBlur stdDeviation="1.2"/></filter><linearGradient id="iCrg" gradientUnits="userSpaceOnUse" x1="0.00" y1="304.30" x2="0.00" y2="358.00"><stop offset="0.000" stop-color="#ff3c14"/><stop offset="0.640" stop-color="#ff3c14"/><stop offset="0.760" stop-color="#ff3c14"/><stop offset="0.900" stop-color="#ff3010"/><stop offset="1.000" stop-color="#ff3010"/></linearGradient></defs><g clip-path="url(#iCr)"><rect x="277.50" y="298.30" width="39.30" height="87.10" fill="url(#iCrg)"/><path d="M278.50,356.00C280.00,355.80 281.50,354.80 283.50,355.00C286.50,355.40 288.50,357.00 292.00,358.60L286.50,381.40L278.50,381.40Z" fill="#8a1008" filter="url(#iCbc)"/></g><path d="M228.90,292.30C231.10,290.70 235.50,290.20 240.50,290.30L297.50,303.20L278.50,304.30Z" fill="url(#iCt)"/><g transform="matrix(1,0.2419,0,1,228.90,292.30)"><g clip-path="url(#iCf)"><rect x="0" y="0" width="49.60" height="75.10" fill="url(#iCb)"/><g><path d="M1.50,-12.00V32.25A13.75,13.75 0 0 0 29.00,32.25V-12.00Z" fill="#f4ff40" filter="url(#iCb0)"/><path d="M3.50,-12.00V29.25A10.75,10.75 0 0 0 25.00,29.25V-12.00Z" fill="#b8ff70" filter="url(#iCb1)"/><path d="M5.50,-12.00V24.75A7.25,7.25 0 0 0 20.00,24.75V-12.00Z" fill="#80ffe8" filter="url(#iCb2)"/><path d="M14.88,53.70L55.60,27.70L55.60,57.70L14.88,57.70Z" fill="#ff3010" fill-opacity="1.00" filter="url(#iCbb)"/><path d="M19.84,53.70L55.60,39.70L55.60,57.70L19.84,57.70Z" fill="#ff2008" fill-opacity="1.00" filter="url(#iCbb)"/></g><rect x="-1" y="51.70" width="51.60" height="24.40" fill="url(#iCl)"/><path d="M0,51.70H49.60" stroke="#301808" stroke-opacity="0.8" stroke-width="0.55" fill="none"/></g></g><path d="M278.50,304.30L297.50,303.20C305.50,304.80 309.80,308.60 314.80,314.20L278.50,379.40Z" fill="none" stroke="#3a2a10" stroke-opacity="0.7" stroke-width="0.55"/><path d="M228.90,292.30C231.10,290.70 235.50,290.20 240.50,290.30L297.50,303.20L278.50,304.30Z" fill="none" stroke="#3a2a10" stroke-opacity="0.7" stroke-width="0.55"/><path d="M228.90,292.30L278.50,304.30L278.50,379.40L228.90,367.40Z" fill="none" stroke="#3a2a10" stroke-opacity="0.75" stroke-width="0.55"/><path d="M278.50,356.00C280.00,355.80 281.50,354.80 283.50,355.00C286.50,355.40 288.50,357.00 290.70,358.20" fill="none" stroke="#301008" stroke-opacity="0.5" stroke-width="0.5"/><ellipse cx="291.7" cy="328.2" rx="3.0" ry="5.0" transform="rotate(8 291.7 328.2)" fill="none" stroke="#601008" stroke-opacity="0.8" stroke-width="0.5"/></g>
<path d="M40.50,327.15C41.00,326.36 42.50,324.00 43.49,322.42C44.49,320.84 45.49,319.25 46.49,317.67C47.48,316.09 48.48,314.51 49.48,312.94C50.48,311.37 51.47,309.80 52.47,308.24C53.47,306.69 54.47,305.14 55.47,303.61C56.46,302.09 57.46,300.57 58.46,299.08C59.46,297.59 60.45,296.11 61.45,294.67C62.45,293.22 63.45,291.80 64.45,290.41C65.44,289.02 66.44,287.65 67.44,286.32C68.44,285.00 69.43,283.70 70.43,282.45C71.43,281.20 72.43,279.98 73.42,278.81C74.42,277.64 75.42,276.51 76.42,275.43C77.42,274.35 78.41,273.32 79.41,272.33C80.41,271.35 81.41,270.40 82.40,269.50C83.40,268.60 84.40,267.75 85.40,266.93C86.40,266.11 87.39,265.34 88.39,264.60C89.39,263.86 90.39,263.17 91.38,262.50C92.38,261.84 93.38,261.21 94.38,260.62C95.37,260.03 96.37,259.47 97.37,258.94C98.37,258.42 99.37,257.92 100.36,257.46C101.36,256.99 102.36,256.56 103.36,256.15C104.35,255.74 105.35,255.36 106.35,255.01C107.35,254.65 108.34,254.32 109.34,254.02C110.34,253.71 111.34,253.43 112.34,253.16C113.33,252.90 114.33,252.66 115.33,252.44C116.33,252.22 117.32,252.01 118.32,251.83C119.32,251.64 120.32,251.47 121.32,251.32C122.31,251.16 123.31,251.02 124.31,250.89C125.31,250.76 126.30,250.65 127.30,250.54C128.30,250.44 129.30,250.34 130.29,250.26C131.29,250.17 132.29,250.09 133.29,250.02C134.29,249.96 135.28,249.90 136.28,249.85C137.28,249.80 138.28,249.75 139.27,249.72C140.27,249.69 141.27,249.66 142.27,249.64C143.27,249.62 144.26,249.61 145.26,249.61C146.26,249.61 147.26,249.61 148.25,249.62C149.25,249.63 150.25,249.65 151.25,249.67C152.24,249.69 153.24,249.72 154.24,249.76C155.24,249.80 156.24,249.84 157.23,249.88C158.23,249.93 159.23,249.98 160.23,250.04C161.22,250.10 162.22,250.16 163.22,250.23C164.22,250.29 165.21,250.36 166.21,250.44C167.21,250.51 168.21,250.59 169.21,250.67C170.20,250.76 171.20,250.84 172.20,250.93C173.20,251.02 174.19,251.12 175.19,251.21C176.19,251.31 177.19,251.41 178.19,251.51C179.18,251.61 180.18,251.71 181.18,251.81C182.18,251.92 183.17,252.02 184.17,252.13C185.17,252.24 186.17,252.35 187.16,252.46C188.16,252.57 189.16,252.68 190.16,252.79C191.16,252.90 192.15,253.02 193.15,253.13C194.15,253.24 195.15,253.35 196.14,253.46C197.14,253.58 198.14,253.69 199.14,253.80C200.14,253.91 201.13,254.02 202.13,254.13C203.13,254.24 204.13,254.34 205.12,254.45C206.12,254.56 207.12,254.66 208.12,254.76C209.11,254.87 210.11,254.97 211.11,255.07C212.11,255.17 213.11,255.27 214.10,255.37C215.10,255.47 216.10,255.56 217.10,255.66C218.09,255.76 219.09,255.85 220.09,255.94C221.09,256.04 222.08,256.13 223.08,256.22C224.08,256.31 225.08,256.40 226.08,256.49C227.07,256.58 228.07,256.66 229.07,256.75C230.07,256.84 231.06,256.92 232.06,257.00C233.06,257.09 234.06,257.17 235.06,257.25C236.05,257.33 237.05,257.41 238.05,257.49C239.05,257.57 240.04,257.64 241.04,257.72C242.04,257.80 243.04,257.87 244.03,257.94C245.03,258.02 246.03,258.09 247.03,258.16C248.03,258.23 249.02,258.30 250.02,258.37C251.02,258.44 252.02,258.51 253.01,258.57C254.01,258.64 255.01,258.70 256.01,258.77C257.01,258.83 258.00,258.89 259.00,258.95C260.00,259.01 261.00,259.07 261.99,259.13C262.99,259.19 263.99,259.25 264.99,259.31C265.98,259.36 266.98,259.42 267.98,259.47C268.98,259.53 269.98,259.58 270.97,259.63C271.97,259.68 272.97,259.73 273.97,259.78C274.96,259.83 275.96,259.88 276.96,259.93C277.96,259.97 278.95,260.02 279.95,260.06C280.95,260.11 281.95,260.15 282.95,260.20C283.94,260.24 284.94,260.28 285.94,260.32C286.94,260.36 287.93,260.40 288.93,260.43C289.93,260.47 290.93,260.51 291.93,260.54C292.92,260.58 293.92,260.61 294.92,260.65C295.92,260.68 296.91,260.71 297.91,260.74C298.91,260.77 299.91,260.80 300.90,260.83C301.90,260.86 302.90,260.89 303.90,260.91C304.90,260.94 305.89,260.96 306.89,260.99C307.89,261.01 308.89,261.03 309.88,261.06C310.88,261.08 311.88,261.10 312.88,261.12C313.88,261.14 314.87,261.16 315.87,261.17C316.87,261.19 317.87,261.21 318.86,261.22C319.86,261.24 320.86,261.25 321.86,261.26C322.85,261.27 324.35,261.29 324.85,261.30" fill="none" stroke="#f5666e" stroke-width="1.95" stroke-linejoin="round"/>
<path d="M40.50,327.11C41.00,326.12 42.50,323.12 43.49,321.16C44.49,319.21 45.49,317.29 46.49,315.40C47.48,313.50 48.48,311.64 49.48,309.81C50.48,307.98 51.47,306.19 52.47,304.42C53.47,302.66 54.47,300.93 55.46,299.23C56.46,297.54 57.46,295.88 58.46,294.26C59.45,292.63 60.45,291.05 61.45,289.50C62.45,287.95 63.44,286.44 64.44,284.97C65.44,283.50 66.44,282.06 67.43,280.67C68.43,279.28 69.43,277.93 70.43,276.62C71.42,275.32 72.42,274.05 73.42,272.83C74.42,271.61 75.41,270.43 76.41,269.30C77.41,268.17 78.41,267.08 79.40,266.04C80.40,265.00 81.40,264.00 82.40,263.06C83.39,262.12 84.39,261.22 85.39,260.37C86.39,259.52 87.38,258.73 88.38,257.98C89.38,257.22 90.38,256.52 91.37,255.86C92.37,255.20 93.37,254.59 94.37,254.02C95.36,253.44 96.36,252.91 97.36,252.42C98.36,251.92 99.36,251.47 100.35,251.04C101.35,250.62 102.35,250.23 103.35,249.87C104.34,249.52 105.34,249.19 106.34,248.89C107.34,248.60 108.33,248.33 109.33,248.08C110.33,247.84 111.33,247.62 112.32,247.42C113.32,247.22 114.32,247.05 115.32,246.89C116.31,246.73 117.31,246.60 118.31,246.47C119.31,246.35 120.30,246.24 121.30,246.15C122.30,246.05 123.30,245.97 124.29,245.90C125.29,245.82 126.29,245.76 127.29,245.70C128.28,245.64 129.28,245.59 130.28,245.54C131.28,245.50 132.27,245.46 133.27,245.42C134.27,245.39 135.27,245.36 136.26,245.34C137.26,245.32 138.26,245.30 139.26,245.29C140.25,245.28 141.25,245.27 142.25,245.27C143.25,245.28 144.24,245.28 145.24,245.29C146.24,245.30 147.24,245.32 148.23,245.34C149.23,245.36 150.23,245.39 151.23,245.42C152.22,245.45 153.22,245.49 154.22,245.53C155.22,245.57 156.22,245.61 157.21,245.66C158.21,245.71 159.21,245.77 160.21,245.82C161.20,245.88 162.20,245.94 163.20,246.01C164.20,246.08 165.19,246.15 166.19,246.22C167.19,246.30 168.19,246.37 169.18,246.46C170.18,246.54 171.18,246.62 172.18,246.71C173.17,246.80 174.17,246.89 175.17,246.99C176.17,247.08 177.16,247.18 178.16,247.28C179.16,247.38 180.16,247.49 181.15,247.60C182.15,247.70 183.15,247.81 184.15,247.93C185.14,248.04 186.14,248.16 187.14,248.27C188.14,248.39 189.13,248.51 190.13,248.63C191.13,248.76 192.13,248.88 193.12,249.01C194.12,249.13 195.12,249.26 196.12,249.39C197.11,249.53 198.11,249.66 199.11,249.79C200.11,249.93 201.10,250.06 202.10,250.20C203.10,250.34 204.10,250.48 205.09,250.61C206.09,250.75 207.09,250.90 208.09,251.04C209.08,251.18 210.08,251.32 211.08,251.47C212.08,251.61 213.08,251.76 214.07,251.90C215.07,252.05 216.07,252.19 217.07,252.34C218.06,252.49 219.06,252.63 220.06,252.78C221.06,252.93 222.05,253.08 223.05,253.22C224.05,253.37 225.05,253.52 226.04,253.67C227.04,253.81 228.04,253.96 229.04,254.11C230.03,254.25 231.03,254.40 232.03,254.55C233.03,254.69 234.02,254.84 235.02,254.98C236.02,255.13 237.02,255.27 238.01,255.41C239.01,255.56 240.01,255.70 241.01,255.84C242.00,255.98 243.00,256.12 244.00,256.26C245.00,256.40 245.99,256.53 246.99,256.67C247.99,256.80 248.99,256.94 249.98,257.07C250.98,257.20 251.98,257.33 252.98,257.46C253.97,257.59 254.97,257.72 255.97,257.84C256.97,257.96 257.96,258.09 258.96,258.21C259.96,258.33 260.96,258.44 261.95,258.56C262.95,258.67 263.95,258.79 264.95,258.90C265.94,259.01 266.94,259.11 267.94,259.22C268.94,259.32 269.94,259.42 270.93,259.52C271.93,259.62 272.93,259.71 273.93,259.80C274.92,259.89 275.92,259.98 276.92,260.07C277.92,260.15 278.91,260.23 279.91,260.31C280.91,260.39 281.91,260.46 282.90,260.53C283.90,260.60 284.90,260.66 285.90,260.73C286.89,260.79 287.89,260.85 288.89,260.90C289.89,260.95 290.88,261.00 291.88,261.04C292.88,261.09 293.88,261.13 294.87,261.16C295.87,261.20 296.87,261.23 297.87,261.25C298.86,261.28 299.86,261.30 300.86,261.31C301.86,261.33 302.85,261.34 303.85,261.34C304.85,261.35 305.85,261.35 306.84,261.34C307.84,261.33 308.84,261.32 309.84,261.31C310.83,261.29 311.83,261.26 312.83,261.24C313.83,261.21 314.82,261.17 315.82,261.13C316.82,261.09 317.82,261.04 318.81,260.99C319.81,260.93 320.81,260.87 321.81,260.81C322.80,260.74 324.30,260.63 324.80,260.59" fill="none" stroke="#1a1aff" stroke-width="1.10" stroke-dasharray="3.2 3.8" stroke-linejoin="round"/>
<path d="M40.50,327.11C41.00,325.91 42.50,322.26 43.49,319.90C44.49,317.55 45.49,315.24 46.49,312.98C47.48,310.72 48.48,308.51 49.48,306.35C50.48,304.19 51.47,302.07 52.47,300.01C53.47,297.95 54.47,295.94 55.46,293.98C56.46,292.02 57.46,290.11 58.46,288.25C59.45,286.40 60.45,284.59 61.45,282.84C62.45,281.09 63.44,279.39 64.44,277.74C65.44,276.10 66.44,274.50 67.43,272.97C68.43,271.43 69.43,269.95 70.43,268.52C71.42,267.09 72.42,265.72 73.42,264.40C74.42,263.09 75.41,261.83 76.41,260.62C77.41,259.42 78.41,258.28 79.40,257.19C80.40,256.10 81.40,255.07 82.40,254.10C83.39,253.13 84.39,252.22 85.39,251.35C86.39,250.49 87.38,249.69 88.38,248.93C89.38,248.18 90.38,247.47 91.37,246.82C92.37,246.16 93.37,245.55 94.37,244.98C95.36,244.42 96.36,243.90 97.36,243.42C98.36,242.94 99.36,242.50 100.35,242.10C101.35,241.70 102.35,241.34 103.35,241.01C104.34,240.68 105.34,240.38 106.34,240.12C107.34,239.86 108.33,239.63 109.33,239.42C110.33,239.22 111.33,239.05 112.32,238.89C113.32,238.74 114.32,238.62 115.32,238.51C116.31,238.41 117.31,238.33 118.31,238.26C119.31,238.20 120.30,238.15 121.30,238.12C122.30,238.09 123.30,238.07 124.29,238.07C125.29,238.06 126.29,238.07 127.29,238.09C128.28,238.10 129.28,238.13 130.28,238.17C131.28,238.21 132.27,238.25 133.27,238.31C134.27,238.37 135.27,238.43 136.26,238.51C137.26,238.58 138.26,238.67 139.26,238.76C140.25,238.85 141.25,238.95 142.25,239.06C143.25,239.17 144.24,239.29 145.24,239.41C146.24,239.53 147.24,239.66 148.23,239.80C149.23,239.94 150.23,240.08 151.23,240.23C152.22,240.38 153.22,240.53 154.22,240.69C155.22,240.86 156.22,241.02 157.21,241.19C158.21,241.37 159.21,241.54 160.21,241.72C161.20,241.90 162.20,242.09 163.20,242.28C164.20,242.47 165.19,242.66 166.19,242.86C167.19,243.05 168.19,243.25 169.18,243.46C170.18,243.66 171.18,243.86 172.18,244.07C173.17,244.28 174.17,244.49 175.17,244.70C176.17,244.91 177.16,245.12 178.16,245.34C179.16,245.55 180.16,245.77 181.15,245.98C182.15,246.20 183.15,246.41 184.15,246.63C185.14,246.84 186.14,247.06 187.14,247.28C188.14,247.49 189.13,247.71 190.13,247.92C191.13,248.14 192.13,248.35 193.12,248.56C194.12,248.77 195.12,248.98 196.12,249.19C197.11,249.39 198.11,249.60 199.11,249.80C200.11,250.00 201.10,250.20 202.10,250.40C203.10,250.60 204.10,250.79 205.09,250.98C206.09,251.17 207.09,251.35 208.09,251.53C209.08,251.72 210.08,251.89 211.08,252.07C212.08,252.24 213.08,252.41 214.07,252.58C215.07,252.75 216.07,252.92 217.07,253.08C218.06,253.24 219.06,253.39 220.06,253.55C221.06,253.70 222.05,253.85 223.05,254.00C224.05,254.15 225.05,254.29 226.04,254.44C227.04,254.58 228.04,254.72 229.04,254.85C230.03,254.99 231.03,255.12 232.03,255.25C233.03,255.38 234.02,255.50 235.02,255.63C236.02,255.75 237.02,255.87 238.01,255.99C239.01,256.10 240.01,256.22 241.01,256.33C242.00,256.44 243.00,256.55 244.00,256.66C245.00,256.76 245.99,256.87 246.99,256.97C247.99,257.07 248.99,257.17 249.98,257.26C250.98,257.36 251.98,257.45 252.98,257.54C253.97,257.63 254.97,257.72 255.97,257.80C256.97,257.89 257.96,257.97 258.96,258.05C259.96,258.13 260.96,258.21 261.95,258.28C262.95,258.36 263.95,258.43 264.95,258.50C265.94,258.58 266.94,258.64 267.94,258.71C268.94,258.78 269.94,258.84 270.93,258.90C271.93,258.97 272.93,259.03 273.93,259.08C274.92,259.14 275.92,259.20 276.92,259.25C277.92,259.31 278.91,259.36 279.91,259.41C280.91,259.46 281.91,259.51 282.90,259.55C283.90,259.60 284.90,259.65 285.90,259.69C286.89,259.73 287.89,259.77 288.89,259.81C289.89,259.85 290.88,259.89 291.88,259.92C292.88,259.96 293.88,260.00 294.87,260.03C295.87,260.06 296.87,260.09 297.87,260.12C298.86,260.15 299.86,260.18 300.86,260.21C301.86,260.23 302.85,260.26 303.85,260.28C304.85,260.31 305.85,260.33 306.84,260.35C307.84,260.37 308.84,260.39 309.84,260.41C310.83,260.43 311.83,260.45 312.83,260.46C313.83,260.48 314.82,260.50 315.82,260.51C316.82,260.52 317.82,260.54 318.81,260.55C319.81,260.56 320.81,260.57 321.81,260.58C322.80,260.59 324.30,260.61 324.80,260.61" fill="none" stroke="#1a1aff" stroke-width="1.90" stroke-linejoin="round"/>
<g fill="none" stroke="#1a1aff" stroke-width="0.80"><circle cx="41.9" cy="345.5" r="2.20"/><circle cx="47.3" cy="337.3" r="2.20"/><circle cx="52.5" cy="320.3" r="2.20"/><circle cx="57.9" cy="305.7" r="2.20"/><circle cx="63.3" cy="294.8" r="2.20"/><circle cx="68.6" cy="283.5" r="2.20"/><circle cx="73.8" cy="271.8" r="2.20"/><circle cx="79.3" cy="262.8" r="2.20"/><circle cx="84.6" cy="255.4" r="2.20"/><circle cx="90.0" cy="249.4" r="2.20"/><circle cx="95.0" cy="244.9" r="2.20"/><circle cx="100.4" cy="241.9" r="2.20"/><circle cx="105.7" cy="239.0" r="2.20"/><circle cx="111.1" cy="237.3" r="2.20"/><circle cx="116.5" cy="236.2" r="2.20"/><circle cx="121.8" cy="235.3" r="2.20"/><circle cx="127.2" cy="235.0" r="2.20"/><circle cx="132.5" cy="235.2" r="2.20"/><circle cx="137.8" cy="235.5" r="2.20"/><circle cx="143.2" cy="235.8" r="2.20"/><circle cx="148.5" cy="236.3" r="2.20"/><circle cx="153.8" cy="237.0" r="2.20"/><circle cx="159.2" cy="237.5" r="2.20"/><circle cx="164.5" cy="238.0" r="2.20"/><circle cx="169.8" cy="238.6" r="2.20"/><circle cx="175.1" cy="239.5" r="2.20"/><circle cx="180.5" cy="240.3" r="2.20"/><circle cx="185.8" cy="241.4" r="2.20"/><circle cx="191.1" cy="242.8" r="2.20"/><circle cx="196.4" cy="243.9" r="2.20"/><circle cx="201.8" cy="245.1" r="2.20"/><circle cx="207.1" cy="246.2" r="2.20"/><circle cx="212.5" cy="247.4" r="2.20"/><circle cx="217.8" cy="248.2" r="2.20"/><circle cx="223.1" cy="248.9" r="2.20"/><circle cx="228.5" cy="249.4" r="2.20"/><circle cx="233.9" cy="249.7" r="2.20"/><circle cx="239.2" cy="250.2" r="2.20"/><circle cx="244.5" cy="250.7" r="2.20"/><circle cx="249.8" cy="251.3" r="2.20"/><circle cx="255.1" cy="252.2" r="2.20"/><circle cx="260.5" cy="253.1" r="2.20"/><circle cx="265.8" cy="254.6" r="2.20"/><circle cx="271.1" cy="256.0" r="2.20"/><circle cx="276.4" cy="256.9" r="2.20"/><circle cx="281.8" cy="257.8" r="2.20"/><circle cx="287.1" cy="258.4" r="2.20"/><circle cx="292.4" cy="259.1" r="2.20"/><circle cx="297.7" cy="258.9" r="2.20"/><circle cx="303.0" cy="258.8" r="2.20"/><circle cx="308.4" cy="258.1" r="2.20"/><circle cx="313.7" cy="257.3" r="2.20"/><circle cx="319.1" cy="256.8" r="2.20"/><circle cx="324.9" cy="257.9" r="2.20"/></g>
<polygon points="125.10,232.10 126.54,235.82 130.52,236.04 127.43,238.56 128.45,242.41 125.10,240.25 121.75,242.41 122.77,238.56 119.68,236.04 123.66,235.82" fill="#1a1aff" stroke="#1a1aff" stroke-width="0.9" stroke-linejoin="miter" stroke-miterlimit="4"/>
<path d="M61.7,337.1H83.9" stroke="#1a1aff" stroke-width="2.10" fill="none"/>
<text class="lg" transform="translate(88.00,340.60) scale(0.980,1)">FEM, HL2</text>
<g fill="none" stroke="#1a1aff" stroke-width="0.95"><circle cx="63.6" cy="350.1" r="2.40"/><circle cx="69.5" cy="350.1" r="2.40"/><circle cx="75.5" cy="350.1" r="2.40"/><circle cx="81.4" cy="350.1" r="2.40"/></g>
<text class="lg" transform="translate(88.00,353.50) scale(0.980,1)">meas, HL2</text>
<path d="M61.7,363.4H83.9" stroke="#1a1aff" stroke-width="1.20" stroke-dasharray="3.3 2.1" fill="none"/>
<text class="lg" transform="translate(88.00,366.60) scale(0.980,1)">FEM, equiv. single hole</text>
<path d="M61.7,375.1H83.9" stroke="#f5666e" stroke-width="2.00" fill="none"/>
<text class="lg" transform="translate(88.00,379.70) scale(0.980,1)">FEM, HL1</text>
</g>
<g id="panel-d">
<path d="M433.11,386.40v-3.50M433.11,223.50v3.50M468.66,386.40v-3.50M468.66,223.50v3.50M504.22,386.40v-3.50M504.22,223.50v3.50M539.77,386.40v-3.50M539.77,223.50v3.50M575.33,386.40v-3.50M575.33,223.50v3.50M610.89,386.40v-3.50M610.89,223.50v3.50M646.44,386.40v-3.50M646.44,223.50v3.50M397.55,227.50h3.50M682.00,227.50h-3.50M397.55,247.36h3.50M682.00,247.36h-3.50M397.55,267.23h3.50M682.00,267.23h-3.50M397.55,287.09h3.50M682.00,287.09h-3.50M397.55,306.95h3.50M682.00,306.95h-3.50M397.55,326.81h3.50M682.00,326.81h-3.50M397.55,346.67h3.50M682.00,346.67h-3.50M397.55,366.54h3.50M682.00,366.54h-3.50" stroke="#151515" stroke-width="1.0" fill="none"/>
<rect x="397.55" y="223.50" width="284.45" height="162.90" fill="none" stroke="#151515" stroke-width="1.12"/>
<text class="tkx" transform="translate(399.20,402.90) scale(0.950,1)" text-anchor="middle">0.2</text>
<text class="tkx" transform="translate(434.53,402.90) scale(0.950,1)" text-anchor="middle">0.3</text>
<text class="tkx" transform="translate(469.86,402.90) scale(0.950,1)" text-anchor="middle">0.4</text>
<text class="tkx" transform="translate(505.19,402.90) scale(0.950,1)" text-anchor="middle">0.5</text>
<text class="tkx" transform="translate(540.52,402.90) scale(0.950,1)" text-anchor="middle">0.6</text>
<text class="tkx" transform="translate(575.85,402.90) scale(0.950,1)" text-anchor="middle">0.7</text>
<text class="tkx" transform="translate(611.18,402.90) scale(0.950,1)" text-anchor="middle">0.8</text>
<text class="tkx" transform="translate(646.51,402.90) scale(0.950,1)" text-anchor="middle">0.9</text>
<text class="tkx" transform="translate(682.94,402.90) scale(0.950,1)" text-anchor="middle" clip-path="url(#oneM)">1</text>
<text class="tk" transform="translate(392.15,231.90) scale(0.970,1)" text-anchor="end" clip-path="url(#oneE)">1</text>
<text class="tk" transform="translate(391.55,249.76) scale(0.970,1)" text-anchor="end">0.9</text>
<text class="tk" transform="translate(391.55,270.23) scale(0.970,1)" text-anchor="end">0.8</text>
<text class="tk" transform="translate(391.55,291.29) scale(0.970,1)" text-anchor="end">0.7</text>
<text class="tk" transform="translate(391.55,311.15) scale(0.970,1)" text-anchor="end">0.6</text>
<text class="tk" transform="translate(391.55,331.01) scale(0.970,1)" text-anchor="end">0.5</text>
<text class="tk" transform="translate(391.55,349.77) scale(0.970,1)" text-anchor="end">0.4</text>
<text class="tk" transform="translate(391.55,369.14) scale(0.970,1)" text-anchor="end">0.3</text>
<text class="tk" transform="translate(391.55,388.40) scale(0.970,1)" text-anchor="end">0.2</text>
<text class="xl" transform="translate(536.88,419.50) scale(1.035,1)" text-anchor="middle">f, kHz</text>
<text class="al" transform="translate(364.85,308.35) rotate(-90) scale(1.000,1)" text-anchor="middle">α</text>
<text class="pl" transform="translate(357.00,225.50) scale(1.080,1)">(d)</text>
<g id="inset-d"><g transform="translate(358.6,215.4)"><path d="M191.8,92.1L184.0,118.5M197.5,94.8L189.3,120.9M184.3,104.9L207.4,110.8" stroke="#222" stroke-width="0.7" fill="none"/><path d="M215.4,112.8L205.3,107.3L207.2,110.7L204.2,113.4Z" fill="#000" stroke="#000" stroke-width="0.4" stroke-linejoin="miter"/></g><defs><clipPath id="iDf"><rect x="0" y="0" width="47.50" height="72.00"/></clipPath><clipPath id="iDr"><path d="M638.50,304.20L656.00,303.20C664.00,304.80 668.40,307.80 673.40,313.40L638.50,376.20Z"/></clipPath><linearGradient id="iDb" gradientUnits="userSpaceOnUse" x1="0.00" y1="0.00" x2="46.49" y2="6.84"><stop offset="0.000" stop-color="#a0f060"/><stop offset="0.300" stop-color="#a8f868"/><stop offset="0.460" stop-color="#c8ff58"/><stop offset="0.550" stop-color="#ffff40"/><stop offset="0.620" stop-color="#f8a028"/><stop offset="0.700" stop-color="#ff3808"/><stop offset="0.800" stop-color="#ff2008"/><stop offset="0.920" stop-color="#d01c08"/><stop offset="1.040" stop-color="#a01808"/></linearGradient><linearGradient id="iDl" gradientUnits="userSpaceOnUse" x1="0.00" y1="0.00" x2="47.50" y2="0.00"><stop offset="0.000" stop-color="#a0f070"/><stop offset="0.150" stop-color="#a8f468"/><stop offset="0.250" stop-color="#e0ff48"/><stop offset="0.340" stop-color="#ffff40"/><stop offset="0.450" stop-color="#f8a028"/><stop offset="0.570" stop-color="#ff3808"/><stop offset="0.710" stop-color="#ff2008"/><stop offset="0.850" stop-color="#d81c08"/><stop offset="1.000" stop-color="#b81808"/></linearGradient><linearGradient id="iDt" gradientUnits="userSpaceOnUse" x1="589.50" y1="0.00" x2="653.00" y2="0.00"><stop offset="0.000" stop-color="#90f080"/><stop offset="0.080" stop-color="#60e0ff"/><stop offset="0.200" stop-color="#50b8f8"/><stop offset="0.320" stop-color="#60e0ff"/><stop offset="0.400" stop-color="#b0ff60"/><stop offset="0.470" stop-color="#ffff40"/><stop offset="0.540" stop-color="#f8a028"/><stop offset="0.640" stop-color="#ff2808"/><stop offset="0.800" stop-color="#c01c08"/><stop offset="1.000" stop-color="#a01808"/></linearGradient><filter id="iDb0" x="-50%" y="-50%" width="200%" height="200%"><feGaussianBlur stdDeviation="2.20"/></filter><filter id="iDb1" x="-50%" y="-50%" width="200%" height="200%"><feGaussianBlur stdDeviation="2.20"/></filter><filter id="iDb2" x="-50%" y="-50%" width="200%" height="200%"><feGaussianBlur stdDeviation="2.00"/></filter><filter id="iDbb" x="-50%" y="-50%" width="200%" height="200%"><feGaussianBlur stdDeviation="2.6"/></filter><filter id="iDbc" x="-50%" y="-50%" width="200%" height="200%"><feGaussianBlur stdDeviation="1.2"/></filter><linearGradient id="iDrg" gradientUnits="userSpaceOnUse" x1="0.00" y1="304.20" x2="0.00" y2="353.80"><stop offset="0.000" stop-color="#a81c10"/><stop offset="0.640" stop-color="#a81c10"/><stop offset="0.760" stop-color="#b01c10"/><stop offset="0.900" stop-color="#c82010"/><stop offset="1.000" stop-color="#c82010"/></linearGradient></defs><g clip-path="url(#iDr)"><rect x="637.50" y="298.20" width="37.90" height="84.00" fill="url(#iDrg)"/><ellipse cx="667.40" cy="314.40" rx="16" ry="13" fill="#8c1408" fill-opacity="0.7" filter="url(#iDbb)"/><ellipse cx="645.50" cy="340.20" rx="7" ry="16" fill="#d02410" fill-opacity="0.75" filter="url(#iDbb)"/><path d="M638.50,351.80C640.00,351.60 641.50,350.60 643.50,350.80C646.50,351.20 648.50,352.80 652.00,354.40L646.50,378.20L638.50,378.20Z" fill="#ac190c" filter="url(#iDbc)"/></g><path d="M591.00,292.50C593.20,290.90 596.90,290.20 601.90,290.30L656.00,303.20L638.50,304.20Z" fill="url(#iDt)"/><g transform="matrix(1,0.2463,0,1,591.00,292.50)"><g clip-path="url(#iDf)"><rect x="0" y="0" width="47.50" height="72.00" fill="url(#iDb)"/><g><path d="M2.00,-12.00V30.75A9.25,9.25 0 0 0 20.50,30.75V-12.00Z" fill="#80f0c0" filter="url(#iDb0)"/><path d="M3.50,-12.00V29.50A7.50,7.50 0 0 0 18.50,29.50V-12.00Z" fill="#60e4ff" filter="url(#iDb1)"/><path d="M8.50,-12.00V14.50A2.50,2.50 0 0 0 13.50,14.50V-12.00Z" fill="#50b0f8" filter="url(#iDb2)"/></g><rect x="-1" y="47.60" width="49.50" height="25.40" fill="url(#iDl)"/><path d="M0,47.60H47.50" stroke="#301808" stroke-opacity="0.8" stroke-width="0.55" fill="none"/></g></g><path d="M638.50,304.20L656.00,303.20C664.00,304.80 668.40,307.80 673.40,313.40L638.50,376.20Z" fill="none" stroke="#3a2a10" stroke-opacity="0.7" stroke-width="0.55"/><path d="M591.00,292.50C593.20,290.90 596.90,290.20 601.90,290.30L656.00,303.20L638.50,304.20Z" fill="none" stroke="#3a2a10" stroke-opacity="0.7" stroke-width="0.55"/><path d="M591.00,292.50L638.50,304.20L638.50,376.20L591.00,364.50Z" fill="none" stroke="#3a2a10" stroke-opacity="0.75" stroke-width="0.55"/><path d="M638.50,351.80C640.00,351.60 641.50,350.60 643.50,350.80C646.50,351.20 648.50,352.80 650.70,354.00" fill="none" stroke="#301008" stroke-opacity="0.5" stroke-width="0.5"/><g fill="none" stroke="#500c06" stroke-opacity="0.8" stroke-width="0.5"><ellipse cx="651.6" cy="327.0" rx="3.1" ry="4.6"/><ellipse cx="648.4" cy="317.5" rx="1.5" ry="2.2" transform="rotate(8 648.4 317.5)"/><ellipse cx="654.6" cy="315.6" rx="1.5" ry="2.2" transform="rotate(8 654.6 315.6)"/><ellipse cx="658.9" cy="320.5" rx="1.5" ry="2.2" transform="rotate(8 658.9 320.5)"/><ellipse cx="658.9" cy="329.1" rx="1.5" ry="2.2" transform="rotate(8 658.9 329.1)"/><ellipse cx="654.6" cy="336.4" rx="1.5" ry="2.2" transform="rotate(8 654.6 336.4)"/><ellipse cx="648.7" cy="338.3" rx="1.5" ry="2.2" transform="rotate(8 648.7 338.3)"/><ellipse cx="644.3" cy="333.5" rx="1.5" ry="2.2" transform="rotate(8 644.3 333.5)"/><ellipse cx="644.3" cy="325.4" rx="1.5" ry="2.2" transform="rotate(8 644.3 325.4)"/></g></g>
<path d="M397.70,327.25C398.20,326.04 399.69,322.38 400.69,320.02C401.69,317.66 402.69,315.35 403.68,313.08C404.68,310.82 405.68,308.60 406.67,306.43C407.67,304.26 408.67,302.14 409.67,300.08C410.66,298.01 411.66,295.99 412.66,294.03C413.66,292.06 414.65,290.14 415.65,288.28C416.65,286.42 417.64,284.61 418.64,282.85C419.64,281.10 420.64,279.39 421.63,277.75C422.63,276.10 423.63,274.50 424.62,272.96C425.62,271.42 426.62,269.94 427.62,268.51C428.61,267.09 429.61,265.71 430.61,264.40C431.60,263.09 432.60,261.83 433.60,260.63C434.60,259.43 435.59,258.29 436.59,257.21C437.59,256.13 438.58,255.11 439.58,254.15C440.58,253.19 441.58,252.29 442.57,251.44C443.57,250.59 444.57,249.81 445.57,249.07C446.56,248.33 447.56,247.65 448.56,247.01C449.55,246.37 450.55,245.79 451.55,245.24C452.55,244.70 453.54,244.20 454.54,243.74C455.54,243.29 456.53,242.87 457.53,242.49C458.53,242.11 459.53,241.77 460.52,241.46C461.52,241.15 462.52,240.88 463.51,240.63C464.51,240.38 465.51,240.17 466.51,239.97C467.50,239.78 468.50,239.62 469.50,239.47C470.50,239.33 471.49,239.21 472.49,239.11C473.49,239.00 474.48,238.92 475.48,238.85C476.48,238.77 477.48,238.72 478.47,238.67C479.47,238.63 480.47,238.59 481.46,238.57C482.46,238.55 483.46,238.54 484.46,238.55C485.45,238.55 486.45,238.56 487.45,238.59C488.44,238.61 489.44,238.65 490.44,238.69C491.44,238.74 492.43,238.79 493.43,238.86C494.43,238.92 495.42,239.00 496.42,239.08C497.42,239.17 498.42,239.26 499.41,239.36C500.41,239.46 501.41,239.57 502.41,239.69C503.40,239.80 504.40,239.93 505.40,240.06C506.39,240.19 507.39,240.33 508.39,240.48C509.39,240.62 510.38,240.78 511.38,240.93C512.38,241.09 513.37,241.26 514.37,241.43C515.37,241.59 516.37,241.77 517.36,241.95C518.36,242.13 519.36,242.31 520.35,242.50C521.35,242.69 522.35,242.88 523.35,243.08C524.34,243.27 525.34,243.47 526.34,243.67C527.34,243.88 528.33,244.08 529.33,244.29C530.33,244.50 531.32,244.71 532.32,244.92C533.32,245.13 534.32,245.34 535.31,245.56C536.31,245.77 537.31,245.99 538.30,246.20C539.30,246.42 540.30,246.64 541.30,246.85C542.29,247.07 543.29,247.29 544.29,247.50C545.28,247.72 546.28,247.93 547.28,248.14C548.28,248.36 549.27,248.57 550.27,248.78C551.27,248.99 552.26,249.20 553.26,249.41C554.26,249.61 555.26,249.82 556.25,250.02C557.25,250.22 558.25,250.41 559.25,250.61C560.24,250.80 561.24,250.99 562.24,251.18C563.23,251.36 564.23,251.55 565.23,251.72C566.23,251.90 567.22,252.08 568.22,252.25C569.22,252.42 570.21,252.59 571.21,252.76C572.21,252.92 573.21,253.08 574.20,253.24C575.20,253.40 576.20,253.56 577.19,253.71C578.19,253.86 579.19,254.01 580.19,254.15C581.18,254.30 582.18,254.44 583.18,254.58C584.18,254.72 585.17,254.85 586.17,254.98C587.17,255.12 588.16,255.25 589.16,255.37C590.16,255.50 591.16,255.62 592.15,255.74C593.15,255.86 594.15,255.98 595.14,256.09C596.14,256.20 597.14,256.32 598.14,256.42C599.13,256.53 600.13,256.64 601.13,256.74C602.12,256.84 603.12,256.94 604.12,257.04C605.12,257.13 606.11,257.23 607.11,257.32C608.11,257.41 609.10,257.50 610.10,257.58C611.10,257.67 612.10,257.75 613.09,257.83C614.09,257.91 615.09,257.99 616.09,258.07C617.08,258.14 618.08,258.21 619.08,258.28C620.07,258.35 621.07,258.42 622.07,258.49C623.07,258.55 624.06,258.61 625.06,258.67C626.06,258.73 627.05,258.79 628.05,258.85C629.05,258.90 630.05,258.96 631.04,259.01C632.04,259.06 633.04,259.11 634.03,259.15C635.03,259.20 636.03,259.24 637.03,259.29C638.02,259.33 639.02,259.37 640.02,259.41C641.02,259.44 642.01,259.48 643.01,259.51C644.01,259.55 645.00,259.58 646.00,259.61C647.00,259.64 648.00,259.66 648.99,259.69C649.99,259.72 650.99,259.74 651.98,259.76C652.98,259.78 653.98,259.80 654.98,259.82C655.97,259.84 656.97,259.85 657.97,259.87C658.96,259.88 659.96,259.90 660.96,259.91C661.96,259.92 662.95,259.93 663.95,259.93C664.95,259.94 665.94,259.95 666.94,259.95C667.94,259.96 668.94,259.96 669.93,259.96C670.93,259.96 671.93,259.96 672.93,259.96C673.92,259.96 674.92,259.96 675.92,259.95C676.91,259.95 677.91,259.94 678.91,259.93C679.91,259.92 681.40,259.91 681.90,259.91" fill="none" stroke="#8080ff" stroke-width="1.95" stroke-linejoin="round"/>
<path d="M397.70,341.88C398.20,340.82 399.69,337.61 400.69,335.52C401.69,333.43 402.69,331.38 403.68,329.36C404.68,327.33 405.68,325.34 406.67,323.38C407.67,321.43 408.67,319.50 409.67,317.61C410.66,315.72 411.66,313.86 412.66,312.03C413.66,310.21 414.65,308.41 415.65,306.65C416.65,304.89 417.64,303.16 418.64,301.47C419.64,299.78 420.64,298.11 421.63,296.49C422.63,294.86 423.63,293.26 424.62,291.70C425.62,290.14 426.62,288.61 427.62,287.11C428.61,285.62 429.61,284.16 430.61,282.73C431.60,281.30 432.60,279.90 433.60,278.54C434.60,277.18 435.59,275.85 436.59,274.56C437.59,273.26 438.58,272.00 439.58,270.77C440.58,269.54 441.58,268.35 442.57,267.19C443.57,266.03 444.57,264.90 445.57,263.81C446.56,262.72 447.56,261.66 448.56,260.63C449.55,259.61 450.55,258.61 451.55,257.66C452.55,256.70 453.54,255.78 454.54,254.89C455.54,254.00 456.53,253.14 457.53,252.32C458.53,251.50 459.53,250.71 460.52,249.96C461.52,249.21 462.52,248.49 463.51,247.80C464.51,247.12 465.51,246.47 466.51,245.85C467.50,245.24 468.50,244.66 469.50,244.11C470.50,243.56 471.49,243.05 472.49,242.57C473.49,242.08 474.48,241.63 475.48,241.21C476.48,240.79 477.48,240.40 478.47,240.03C479.47,239.66 480.47,239.32 481.46,239.01C482.46,238.69 483.46,238.41 484.46,238.14C485.45,237.87 486.45,237.62 487.45,237.40C488.44,237.17 489.44,236.97 490.44,236.78C491.44,236.59 492.43,236.43 493.43,236.27C494.43,236.12 495.42,235.98 496.42,235.86C497.42,235.73 498.42,235.62 499.41,235.52C500.41,235.42 501.41,235.33 502.41,235.26C503.40,235.18 504.40,235.12 505.40,235.06C506.39,235.01 507.39,234.96 508.39,234.93C509.39,234.89 510.38,234.86 511.38,234.85C512.38,234.83 513.37,234.82 514.37,234.82C515.37,234.82 516.37,234.82 517.36,234.84C518.36,234.85 519.36,234.87 520.35,234.89C521.35,234.92 522.35,234.95 523.35,234.99C524.34,235.03 525.34,235.07 526.34,235.12C527.34,235.16 528.33,235.22 529.33,235.27C530.33,235.32 531.32,235.38 532.32,235.44C533.32,235.51 534.32,235.57 535.31,235.63C536.31,235.70 537.31,235.77 538.30,235.84C539.30,235.91 540.30,235.98 541.30,236.05C542.29,236.11 543.29,236.19 544.29,236.25C545.28,236.32 546.28,236.39 547.28,236.46C548.28,236.53 549.27,236.60 550.27,236.67C551.27,236.74 552.26,236.81 553.26,236.88C554.26,236.94 555.26,237.01 556.25,237.08C557.25,237.15 558.25,237.22 559.25,237.28C560.24,237.35 561.24,237.42 562.24,237.49C563.23,237.56 564.23,237.62 565.23,237.69C566.23,237.76 567.22,237.83 568.22,237.89C569.22,237.96 570.21,238.03 571.21,238.10C572.21,238.16 573.21,238.23 574.20,238.30C575.20,238.37 576.20,238.43 577.19,238.50C578.19,238.57 579.19,238.64 580.19,238.70C581.18,238.77 582.18,238.84 583.18,238.91C584.18,238.97 585.17,239.04 586.17,239.11C587.17,239.18 588.16,239.25 589.16,239.31C590.16,239.38 591.16,239.45 592.15,239.52C593.15,239.59 594.15,239.66 595.14,239.73C596.14,239.80 597.14,239.86 598.14,239.93C599.13,240.00 600.13,240.07 601.13,240.14C602.12,240.21 603.12,240.28 604.12,240.35C605.12,240.42 606.11,240.50 607.11,240.57C608.11,240.64 609.10,240.71 610.10,240.78C611.10,240.85 612.10,240.92 613.09,241.00C614.09,241.07 615.09,241.14 616.09,241.22C617.08,241.29 618.08,241.36 619.08,241.44C620.07,241.51 621.07,241.59 622.07,241.66C623.07,241.73 624.06,241.81 625.06,241.89C626.06,241.96 627.05,242.04 628.05,242.12C629.05,242.19 630.05,242.27 631.04,242.35C632.04,242.42 633.04,242.50 634.03,242.58C635.03,242.66 636.03,242.74 637.03,242.82C638.02,242.90 639.02,242.98 640.02,243.06C641.02,243.14 642.01,243.23 643.01,243.31C644.01,243.39 645.00,243.47 646.00,243.56C647.00,243.64 648.00,243.73 648.99,243.81C649.99,243.90 650.99,243.98 651.98,244.07C652.98,244.15 653.98,244.24 654.98,244.33C655.97,244.42 656.97,244.51 657.97,244.60C658.96,244.69 659.96,244.78 660.96,244.87C661.96,244.96 662.95,245.05 663.95,245.14C664.95,245.24 665.94,245.33 666.94,245.42C667.94,245.52 668.94,245.61 669.93,245.71C670.93,245.80 671.93,245.90 672.93,246.00C673.92,246.10 674.92,246.20 675.92,246.30C676.91,246.40 677.91,246.50 678.91,246.60C679.91,246.70 681.40,246.85 681.90,246.91" fill="none" stroke="#2a8c1a" stroke-width="1.10" stroke-dasharray="3.2 3.8" stroke-linejoin="round"/>
<path d="M397.55,378.60C398.05,377.70 399.55,375.01 400.54,373.19C401.54,371.37 402.54,369.53 403.54,367.67C404.53,365.80 405.53,363.92 406.53,362.01C407.53,360.11 408.52,358.18 409.52,356.23C410.52,354.27 411.52,352.30 412.52,350.29C413.51,348.29 414.51,346.26 415.51,344.21C416.51,342.15 417.50,340.07 418.50,337.96C419.50,335.85 420.50,333.72 421.50,331.55C422.49,329.39 423.49,327.19 424.49,324.97C425.49,322.74 426.48,320.49 427.48,318.22C428.48,315.95 429.48,313.65 430.47,311.36C431.47,309.07 432.47,306.76 433.47,304.47C434.47,302.17 435.46,299.87 436.46,297.60C437.46,295.32 438.46,293.05 439.45,290.83C440.45,288.60 441.45,286.40 442.45,284.27C443.45,282.14 444.44,280.05 445.44,278.05C446.44,276.04 447.44,274.10 448.43,272.23C449.43,270.36 450.43,268.56 451.43,266.83C452.42,265.09 453.42,263.42 454.42,261.82C455.42,260.21 456.42,258.67 457.41,257.20C458.41,255.72 459.41,254.31 460.41,252.96C461.40,251.61 462.40,250.32 463.40,249.09C464.40,247.86 465.39,246.70 466.39,245.59C467.39,244.48 468.39,243.43 469.39,242.44C470.38,241.45 471.38,240.52 472.38,239.64C473.38,238.77 474.37,237.95 475.37,237.18C476.37,236.42 477.37,235.71 478.37,235.05C479.36,234.39 480.36,233.79 481.36,233.24C482.36,232.69 483.35,232.19 484.35,231.75C485.35,231.30 486.35,230.90 487.34,230.55C488.34,230.20 489.34,229.90 490.34,229.64C491.34,229.38 492.33,229.16 493.33,228.98C494.33,228.80 495.33,228.66 496.32,228.55C497.32,228.44 498.32,228.36 499.32,228.31C500.32,228.26 501.31,228.24 502.31,228.24C503.31,228.24 504.31,228.27 505.30,228.32C506.30,228.36 507.30,228.42 508.30,228.50C509.29,228.58 510.29,228.67 511.29,228.77C512.29,228.87 513.29,228.98 514.28,229.10C515.28,229.22 516.28,229.35 517.28,229.49C518.27,229.63 519.27,229.78 520.27,229.93C521.27,230.08 522.26,230.25 523.26,230.42C524.26,230.58 525.26,230.76 526.26,230.94C527.25,231.13 528.25,231.32 529.25,231.51C530.25,231.71 531.24,231.91 532.24,232.11C533.24,232.32 534.24,232.53 535.24,232.74C536.23,232.96 537.23,233.18 538.23,233.40C539.23,233.62 540.22,233.85 541.22,234.08C542.22,234.31 543.22,234.54 544.21,234.78C545.21,235.01 546.21,235.25 547.21,235.49C548.21,235.72 549.20,235.97 550.20,236.21C551.20,236.45 552.20,236.69 553.19,236.93C554.19,237.17 555.19,237.42 556.19,237.66C557.19,237.90 558.18,238.15 559.18,238.39C560.18,238.64 561.18,238.88 562.17,239.12C563.17,239.37 564.17,239.61 565.17,239.86C566.16,240.10 567.16,240.35 568.16,240.59C569.16,240.83 570.16,241.08 571.15,241.32C572.15,241.56 573.15,241.80 574.15,242.05C575.14,242.29 576.14,242.53 577.14,242.77C578.14,243.01 579.13,243.25 580.13,243.49C581.13,243.72 582.13,243.96 583.13,244.20C584.12,244.43 585.12,244.67 586.12,244.90C587.12,245.13 588.11,245.36 589.11,245.59C590.11,245.82 591.11,246.05 592.11,246.28C593.10,246.51 594.10,246.73 595.10,246.95C596.10,247.18 597.09,247.40 598.09,247.62C599.09,247.84 600.09,248.05 601.08,248.27C602.08,248.48 603.08,248.69 604.08,248.90C605.08,249.11 606.07,249.32 607.07,249.52C608.07,249.73 609.07,249.93 610.06,250.13C611.06,250.33 612.06,250.52 613.06,250.72C614.06,250.91 615.05,251.10 616.05,251.29C617.05,251.47 618.05,251.66 619.04,251.84C620.04,252.02 621.04,252.19 622.04,252.37C623.03,252.54 624.03,252.71 625.03,252.87C626.03,253.04 627.03,253.20 628.02,253.36C629.02,253.52 630.02,253.67 631.02,253.82C632.01,253.97 633.01,254.12 634.01,254.26C635.01,254.40 636.00,254.54 637.00,254.67C638.00,254.80 639.00,254.93 640.00,255.05C640.99,255.18 641.99,255.30 642.99,255.41C643.99,255.52 644.98,255.63 645.98,255.74C646.98,255.84 647.98,255.94 648.98,256.03C649.97,256.13 650.97,256.22 651.97,256.30C652.97,256.38 653.96,256.46 654.96,256.53C655.96,256.60 656.96,256.67 657.95,256.73C658.95,256.79 659.95,256.85 660.95,256.90C661.95,256.95 662.94,256.99 663.94,257.03C664.94,257.06 665.94,257.09 666.93,257.12C667.93,257.14 668.93,257.16 669.93,257.17C670.93,257.18 671.92,257.19 672.92,257.19C673.92,257.19 674.92,257.18 675.91,257.16C676.91,257.15 677.91,257.13 678.91,257.10C679.90,257.07 681.40,257.01 681.90,256.99" fill="none" stroke="#2a8c1a" stroke-width="1.90" stroke-linejoin="round"/>
<g fill="none" stroke="#2a8c1a" stroke-width="0.80"><circle cx="398.6" cy="372.4" r="2.20"/><circle cx="404.4" cy="362.7" r="2.20"/><circle cx="409.8" cy="354.3" r="2.20"/><circle cx="415.3" cy="345.7" r="2.20"/><circle cx="420.6" cy="335.1" r="2.20"/><circle cx="426.0" cy="323.2" r="2.20"/><circle cx="431.4" cy="311.4" r="2.20"/><circle cx="436.6" cy="301.1" r="2.20"/><circle cx="441.6" cy="291.9" r="2.20"/><circle cx="447.1" cy="282.4" r="2.20"/><circle cx="452.3" cy="274.4" r="2.20"/><circle cx="457.7" cy="267.2" r="2.20"/><circle cx="463.0" cy="260.9" r="2.20"/><circle cx="468.4" cy="255.1" r="2.20"/><circle cx="473.8" cy="249.4" r="2.20"/><circle cx="479.1" cy="244.1" r="2.20"/><circle cx="484.4" cy="239.5" r="2.20"/><circle cx="490.0" cy="235.3" r="2.20"/><circle cx="495.2" cy="232.5" r="2.20"/><circle cx="500.5" cy="230.4" r="2.20"/><circle cx="505.7" cy="228.7" r="2.20"/><circle cx="511.1" cy="227.9" r="2.20"/><circle cx="516.4" cy="227.2" r="2.20"/><circle cx="521.7" cy="227.1" r="2.20"/><circle cx="527.1" cy="227.6" r="2.20"/><circle cx="532.4" cy="228.4" r="2.20"/><circle cx="537.8" cy="229.2" r="2.20"/><circle cx="543.1" cy="229.9" r="2.20"/><circle cx="548.5" cy="230.9" r="2.20"/><circle cx="553.8" cy="232.4" r="2.20"/><circle cx="559.2" cy="233.7" r="2.20"/><circle cx="564.5" cy="234.8" r="2.20"/><circle cx="569.8" cy="236.2" r="2.20"/><circle cx="575.2" cy="237.8" r="2.20"/><circle cx="580.5" cy="239.0" r="2.20"/><circle cx="585.8" cy="239.8" r="2.20"/><circle cx="590.9" cy="240.8" r="2.20"/><circle cx="596.2" cy="241.8" r="2.20"/><circle cx="601.5" cy="242.8" r="2.20"/><circle cx="606.8" cy="243.2" r="2.20"/><circle cx="612.1" cy="244.1" r="2.20"/><circle cx="617.5" cy="245.4" r="2.20"/><circle cx="622.8" cy="246.9" r="2.20"/><circle cx="628.1" cy="248.2" r="2.20"/><circle cx="633.4" cy="249.5" r="2.20"/><circle cx="638.8" cy="251.3" r="2.20"/><circle cx="644.1" cy="252.3" r="2.20"/><circle cx="649.4" cy="253.1" r="2.20"/><circle cx="654.7" cy="254.0" r="2.20"/><circle cx="660.0" cy="254.1" r="2.20"/><circle cx="665.4" cy="254.3" r="2.20"/><circle cx="670.7" cy="253.3" r="2.20"/><circle cx="676.1" cy="253.3" r="2.20"/><circle cx="681.9" cy="255.0" r="2.20"/></g>
<polygon points="505.60,222.90 507.04,226.62 511.02,226.84 507.93,229.36 508.95,233.21 505.60,231.05 502.25,233.21 503.27,229.36 500.18,226.84 504.16,226.62" fill="#2a8c1a" stroke="#2a8c1a" stroke-width="0.9" stroke-linejoin="miter" stroke-miterlimit="4"/>
<path d="M435.7,336.9H458.0" stroke="#2a8c1a" stroke-width="2.10" fill="none"/>
<text class="lg" transform="translate(462.50,341.00) scale(0.980,1)">FEM, HL3</text>
<g fill="none" stroke="#2a8c1a" stroke-width="0.95"><circle cx="437.6" cy="350.3" r="2.40"/><circle cx="443.6" cy="350.3" r="2.40"/><circle cx="449.5" cy="350.3" r="2.40"/><circle cx="455.5" cy="350.3" r="2.40"/></g>
<text class="lg" transform="translate(462.50,353.90) scale(0.980,1)">meas, HL3</text>
<path d="M435.7,363.5H458.0" stroke="#2a8c1a" stroke-width="1.20" stroke-dasharray="3.3 2.1" fill="none"/>
<text class="lg" transform="translate(462.50,367.10) scale(0.980,1)">FEM, equiv. single hole</text>
<path d="M435.7,375.0H458.0" stroke="#8080ff" stroke-width="2.00" fill="none"/>
<text class="lg" transform="translate(462.50,379.50) scale(0.980,1)">FEM, HL2</text>
</g>
</svg>
</body>
</html>
